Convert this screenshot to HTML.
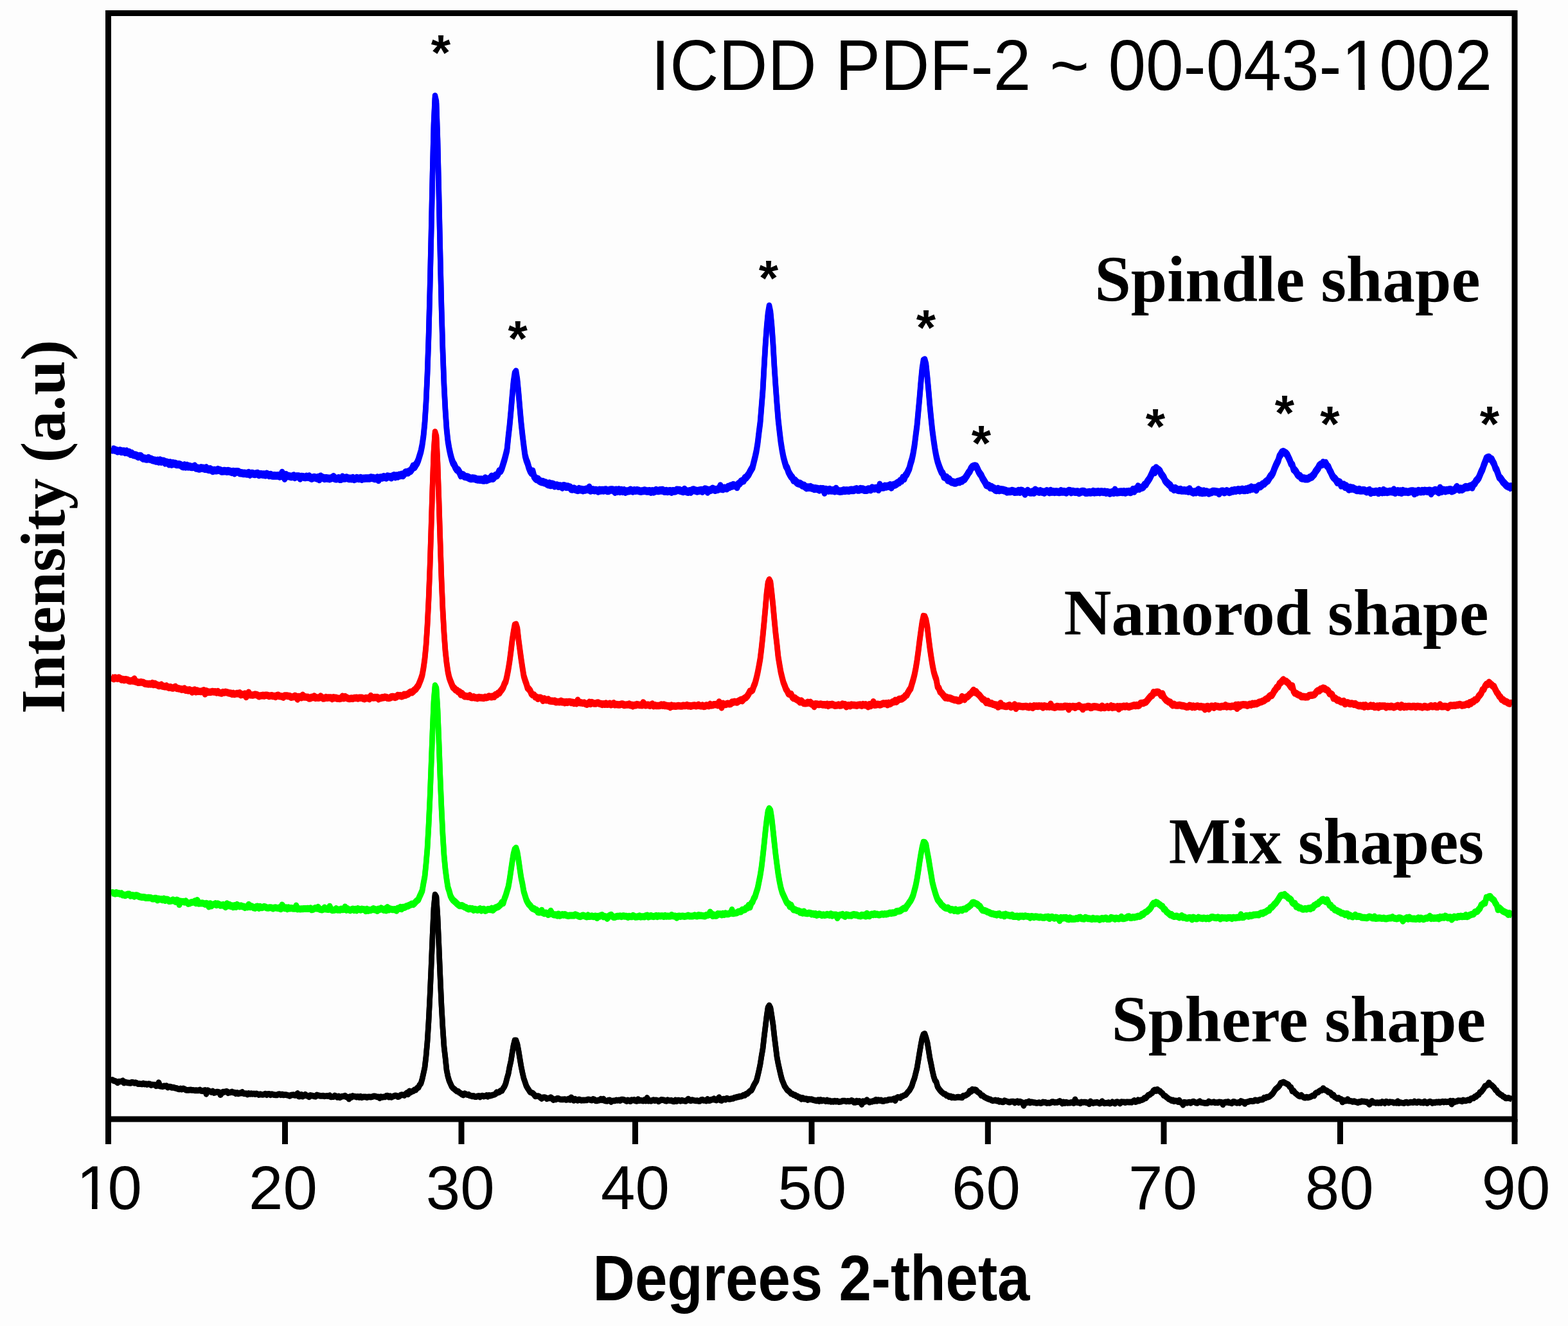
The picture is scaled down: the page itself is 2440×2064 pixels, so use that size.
<!DOCTYPE html>
<html><head><meta charset="utf-8"><title>XRD patterns</title>
<style>
html,body{margin:0;padding:0;background:#fdfdfd;}
body{width:2440px;height:2064px;overflow:hidden;position:relative;}
svg{position:absolute;left:0;top:0;display:block;}
.sans{font-family:"Liberation Sans",Arial,sans-serif;}
.serif{font-family:"Liberation Serif","Times New Roman",serif;font-weight:bold;}
</style></head><body>
<svg width="2440" height="2064" viewBox="0 0 2440 2064">
<rect x="0" y="0" width="2440" height="2064" fill="#fdfdfd"/>
<g fill="none" stroke="#0000ff" stroke-width="8.5" stroke-linejoin="round" stroke-linecap="butt">
<path transform="translate(0,-2.00)" d="M173 699.0 L175 700.3 L177 699.5 L179 700.6 L181 701.1 L183 702.2 L185 701.9 L187 701.5 L189 702.9 L191 702.6 L193 702.5 L195 704.0 L197 702.7 L199 704.4 L201 704.1 L203 706.6 L205 705.9 L207 707.7 L209 708.3 L211 708.4 L213 709.5 L215 710.8 L217 710.1 L219 709.9 L221 712.3 L223 713.6 L225 713.5 L227 714.2 L229 714.4 L231 713.0 L233 714.6 L235 714.8 L237 715.9 L239 716.4 L241 716.7 L243 717.6 L245 716.9 L247 718.4 L249 716.6 L251 718.6 L253 717.8 L255 717.9 L257 720.4 L259 719.5 L261 720.3 L263 722.1 L265 720.4 L267 722.5 L269 721.0 L271 722.0 L273 721.8 L275 723.0 L277 722.9 L279 723.1 L281 723.7 L283 725.3 L285 726.2 L287 724.5 L289 726.3 L291 724.9 L293 726.4 L295 726.0 L297 726.7 L299 726.9 L301 726.8 L303 725.7 L305 728.4 L307 728.5 L309 729.4 L311 729.4 L313 728.3 L315 728.8 L317 729.0 L319 729.9 L321 728.5 L323 730.4 L325 731.0 L327 730.2 L329 731.6 L331 733.0 L333 731.9 L335 732.2 L337 732.2 L339 731.1 L341 731.9 L343 732.4 L345 733.6 L347 733.4 L349 733.0 L351 733.2 L353 733.8 L355 733.0 L357 733.6 L359 734.3 L361 734.9 L363 734.0 L365 736.1 L367 734.3 L369 734.2 L371 734.4 L373 736.2 L375 736.2 L377 736.5 L379 737.1 L381 736.8 L383 737.2 L385 737.5 L387 736.1 L389 738.5 L391 736.9 L393 737.1 L395 737.7 L397 737.9 L399 737.4 L401 736.9 L403 738.9 L405 738.3 L407 738.3 L409 738.7 L411 738.4 L413 739.3 L415 737.8 L417 738.9 L419 740.0 L421 739.0 L423 740.2 L425 740.4 L427 740.3 L429 740.4 L431 740.4 L433 740.3 L435 741.4 L437 740.7 L439 735.9 L441 740.8 L443 744.6 L445 739.2 L447 741.0 L449 741.1 L451 741.4 L453 742.1 L455 741.6 L457 740.6 L459 742.8 L461 741.5 L463 741.5 L465 741.5 L467 744.4 L469 741.9 L471 742.2 L473 742.7 L475 743.0 L477 741.8 L479 742.7 L481 741.6 L483 743.6 L485 744.6 L487 743.6 L489 742.9 L491 743.6 L493 744.4 L495 743.2 L497 746.0 L499 741.7 L501 743.3 L503 743.9 L505 744.9 L507 744.3 L509 744.5 L511 744.7 L513 745.3 L515 744.3 L517 743.9 L519 742.2 L521 744.9 L523 745.3 L525 744.8 L527 744.3 L529 745.8 L531 745.7 L533 742.8 L535 744.6 L537 744.5 L539 743.4 L541 744.2 L543 744.9 L545 744.8 L547 745.2 L549 744.1 L551 745.9 L553 745.3 L555 744.1 L557 744.6 L559 745.0 L561 744.0 L563 745.7 L565 744.7 L567 744.7 L569 744.6 L571 744.5 L573 744.5 L575 744.6 L577 743.5 L579 743.9 L581 744.0 L583 745.1 L585 744.9 L587 743.7 L589 746.9 L591 743.7 L593 743.4 L595 743.5 L597 742.2 L599 743.0 L601 743.5 L603 741.6 L605 742.0 L607 742.2 L609 743.2 L611 741.3 L613 740.4 L615 742.1 L617 740.6 L619 741.4 L621 739.8 L623 740.0 L625 738.9 L627 739.9 L629 737.6 L631 735.5 L633 735.2 L635 735.6 L637 733.6 L639 732.9 L641 730.0 L643 725.7 L645 727.0 L647 723.7 L649 720.7 L651 715.8 L653 709.3 L655 702.6 L657 692.7 L659 678.5 L661 657.8 L663 626.5 L665 582.7 L667 525.0 L669 450.0 L671 364.6 L673 272.7 L675 192.6 L677 150.5 L679 159.2 L681 218.5 L683 304.4 L685 394.9 L687 478.2 L689 546.1 L691 599.7 L693 638.2 L695 667.8 L697 686.5 L699 698.3 L701 707.5 L703 715.2 L705 720.7 L707 723.7 L709 728.2 L711 731.1 L713 732.0 L715 735.2 L717 739.9 L719 739.2 L721 739.7 L723 741.7 L725 742.1 L727 742.4 L729 743.4 L731 744.4 L733 745.1 L735 744.4 L737 744.8 L739 744.9 L741 746.0 L743 746.5 L745 746.4 L747 746.8 L749 746.4 L751 747.2 L753 747.5 L755 744.6 L757 747.2 L759 746.4 L761 745.4 L763 745.0 L765 741.8 L767 744.8 L769 742.6 L771 740.3 L773 740.3 L775 737.5 L777 733.4 L779 733.0 L781 728.9 L783 722.2 L785 715.9 L787 708.2 L789 699.9 L791 680.0 L793 662.5 L795 640.8 L797 617.0 L799 595.2 L801 581.5 L803 578.7 L805 591.3 L807 612.5 L809 636.0 L811 658.7 L813 677.0 L815 693.4 L817 708.6 L819 716.2 L821 721.0 L823 728.0 L825 732.9 L827 736.0 L829 733.7 L831 741.5 L833 744.2 L835 745.9 L837 745.7 L839 748.2 L841 749.3 L843 750.2 L845 750.0 L847 751.3 L849 751.5 L851 752.9 L853 754.2 L855 752.4 L857 755.1 L859 753.5 L861 754.1 L863 756.2 L865 755.4 L867 755.6 L869 756.7 L871 756.4 L873 756.9 L875 758.5 L877 756.2 L879 756.7 L881 757.9 L883 757.4 L885 758.0 L887 758.5 L889 761.3 L891 761.4 L893 760.6 L895 761.6 L897 762.4 L899 762.9 L901 761.2 L903 762.3 L905 762.0 L907 763.2 L909 762.5 L911 762.4 L913 761.5 L915 762.0 L917 758.8 L919 763.5 L921 762.4 L923 762.6 L925 763.2 L927 762.9 L929 763.3 L931 764.5 L933 762.8 L935 763.5 L937 762.9 L939 763.5 L941 762.7 L943 762.6 L945 763.9 L947 764.1 L949 762.7 L951 762.6 L953 762.5 L955 763.1 L957 765.7 L959 762.7 L961 764.6 L963 762.6 L965 764.7 L967 763.1 L969 764.8 L971 763.5 L973 765.6 L975 764.6 L977 764.4 L979 764.1 L981 762.8 L983 763.6 L985 764.5 L987 763.2 L989 763.8 L991 763.2 L993 763.6 L995 764.3 L997 764.7 L999 764.4 L1001 764.1 L1003 763.5 L1005 764.1 L1007 764.6 L1009 764.5 L1011 764.3 L1013 765.6 L1015 764.3 L1017 765.4 L1019 764.4 L1021 763.1 L1023 763.9 L1025 764.0 L1027 763.3 L1029 763.4 L1031 762.9 L1033 764.5 L1035 764.8 L1037 764.1 L1039 765.0 L1041 764.5 L1043 764.2 L1045 765.7 L1047 764.2 L1049 764.5 L1051 764.3 L1053 762.8 L1055 763.0 L1057 763.0 L1059 763.9 L1061 764.3 L1063 765.0 L1065 762.1 L1067 763.6 L1069 765.4 L1071 765.7 L1073 764.3 L1075 765.5 L1077 763.2 L1079 762.4 L1081 763.4 L1083 763.7 L1085 764.4 L1087 763.9 L1089 763.5 L1091 763.1 L1093 764.7 L1095 762.9 L1097 761.6 L1099 762.0 L1101 765.5 L1103 763.1 L1105 762.9 L1107 762.2 L1109 760.8 L1111 761.9 L1113 762.8 L1115 762.1 L1117 761.8 L1119 760.7 L1121 756.6 L1123 760.8 L1125 761.2 L1127 759.7 L1129 759.9 L1131 760.2 L1133 758.1 L1135 758.0 L1137 756.5 L1139 756.4 L1141 755.0 L1143 755.7 L1145 755.9 L1147 758.1 L1149 753.4 L1151 752.5 L1153 749.8 L1155 748.7 L1157 748.2 L1159 744.4 L1161 743.4 L1163 740.9 L1165 738.3 L1167 734.3 L1169 730.9 L1171 727.6 L1173 719.6 L1175 711.5 L1177 702.5 L1179 690.3 L1181 673.3 L1183 657.9 L1185 633.0 L1187 608.1 L1189 572.1 L1191 538.2 L1193 510.5 L1195 489.0 L1197 477.0 L1199 486.5 L1201 507.5 L1203 535.7 L1205 570.9 L1207 600.8 L1209 628.2 L1211 653.3 L1213 671.1 L1215 687.9 L1217 700.5 L1219 711.1 L1221 718.8 L1223 725.4 L1225 728.7 L1227 734.5 L1229 738.2 L1231 741.5 L1233 743.6 L1235 747.6 L1237 747.8 L1239 750.0 L1241 751.8 L1243 752.7 L1245 752.7 L1247 754.3 L1249 755.7 L1251 755.7 L1253 757.6 L1255 759.2 L1257 758.4 L1259 758.9 L1261 758.1 L1263 759.5 L1265 759.7 L1267 761.0 L1269 760.3 L1271 760.8 L1273 761.1 L1275 762.4 L1277 761.1 L1279 761.5 L1281 761.3 L1283 766.5 L1285 761.9 L1287 762.9 L1289 763.6 L1291 762.0 L1293 763.4 L1295 763.5 L1297 763.1 L1299 764.3 L1301 761.0 L1303 763.9 L1305 764.2 L1307 764.8 L1309 764.4 L1311 764.3 L1313 763.2 L1315 763.9 L1317 763.4 L1319 763.6 L1321 763.7 L1323 763.0 L1325 762.7 L1327 763.0 L1329 762.9 L1331 761.8 L1333 761.3 L1335 762.5 L1337 762.4 L1339 761.1 L1341 761.6 L1343 761.6 L1345 762.7 L1347 762.8 L1349 762.8 L1351 761.5 L1353 761.7 L1355 762.2 L1357 759.6 L1359 760.2 L1361 760.6 L1363 759.9 L1365 759.7 L1367 761.8 L1369 754.8 L1371 758.7 L1373 758.1 L1375 758.5 L1377 756.8 L1379 757.4 L1381 756.7 L1383 756.8 L1385 755.3 L1387 758.5 L1389 755.6 L1391 754.9 L1393 754.4 L1395 753.1 L1397 751.5 L1399 751.0 L1401 748.4 L1403 748.2 L1405 743.8 L1407 745.0 L1409 740.2 L1411 737.8 L1413 733.5 L1415 729.2 L1417 721.4 L1419 715.1 L1421 705.8 L1423 693.9 L1425 677.8 L1427 662.4 L1429 640.5 L1431 618.7 L1433 594.7 L1435 573.9 L1437 561.6 L1439 560.4 L1441 567.7 L1443 587.0 L1445 608.3 L1447 632.0 L1449 652.3 L1451 671.4 L1453 686.1 L1455 699.5 L1457 710.4 L1459 718.4 L1461 724.5 L1463 729.9 L1465 734.7 L1467 737.0 L1469 742.1 L1471 743.0 L1473 742.9 L1475 747.4 L1477 746.2 L1479 748.8 L1481 750.2 L1483 750.4 L1485 751.4 L1487 751.6 L1489 750.5 L1491 749.8 L1493 750.0 L1495 748.5 L1497 748.5 L1499 746.4 L1501 745.7 L1503 742.7 L1505 739.7 L1507 736.2 L1509 733.7 L1511 729.3 L1513 726.8 L1515 725.9 L1517 725.5 L1519 725.9 L1521 729.8 L1523 734.2 L1525 737.4 L1527 740.0 L1529 744.6 L1531 747.8 L1533 751.0 L1535 755.0 L1537 755.6 L1539 756.3 L1541 758.8 L1543 758.1 L1545 759.6 L1547 760.5 L1549 762.7 L1551 763.1 L1553 761.1 L1555 763.1 L1557 762.3 L1559 762.6 L1561 762.8 L1563 763.5 L1565 763.9 L1567 765.4 L1569 765.0 L1571 764.9 L1573 764.9 L1575 764.0 L1577 764.6 L1579 765.8 L1581 765.6 L1583 765.5 L1585 764.0 L1587 765.6 L1589 763.7 L1591 764.3 L1593 765.8 L1595 768.5 L1597 766.2 L1599 764.0 L1601 765.8 L1603 766.4 L1605 766.6 L1607 765.4 L1609 766.7 L1611 762.8 L1613 764.5 L1615 764.8 L1617 765.7 L1619 764.4 L1621 765.5 L1623 765.7 L1625 766.6 L1627 765.4 L1629 764.3 L1631 765.2 L1633 766.1 L1635 764.2 L1637 765.7 L1639 765.3 L1641 765.9 L1643 765.5 L1645 765.6 L1647 765.9 L1649 765.9 L1651 764.3 L1653 765.6 L1655 765.2 L1657 765.5 L1659 766.5 L1661 765.3 L1663 764.1 L1665 764.2 L1667 766.1 L1669 764.9 L1671 765.4 L1673 765.7 L1675 765.7 L1677 765.5 L1679 766.9 L1681 766.2 L1683 765.2 L1685 765.0 L1687 765.2 L1689 766.7 L1691 766.7 L1693 766.5 L1695 766.0 L1697 766.6 L1699 766.2 L1701 765.1 L1703 766.4 L1705 765.8 L1707 765.9 L1709 765.3 L1711 766.2 L1713 765.5 L1715 765.5 L1717 766.0 L1719 765.5 L1721 766.8 L1723 766.0 L1725 766.5 L1727 767.6 L1729 766.7 L1731 766.1 L1733 766.8 L1735 762.8 L1737 766.2 L1739 766.4 L1741 766.0 L1743 765.7 L1745 765.6 L1747 766.1 L1749 765.2 L1751 766.6 L1753 765.6 L1755 765.4 L1757 765.1 L1759 766.0 L1761 765.1 L1763 762.3 L1765 764.4 L1767 761.4 L1769 761.2 L1771 757.4 L1773 760.7 L1775 759.2 L1777 758.8 L1779 757.9 L1781 754.6 L1783 754.0 L1785 750.3 L1787 747.5 L1789 744.5 L1791 740.4 L1793 736.2 L1795 731.3 L1797 735.0 L1799 728.6 L1801 730.3 L1803 731.6 L1805 733.6 L1807 737.9 L1809 740.3 L1811 743.2 L1813 747.9 L1815 750.3 L1817 752.1 L1819 754.2 L1821 755.6 L1823 759.4 L1825 759.9 L1827 761.8 L1829 760.2 L1831 761.6 L1833 762.6 L1835 763.1 L1837 762.1 L1839 763.6 L1841 763.6 L1843 763.2 L1845 763.8 L1847 763.5 L1849 764.5 L1851 761.4 L1853 764.6 L1855 765.5 L1857 766.7 L1859 765.5 L1861 766.3 L1863 764.2 L1865 762.5 L1867 766.6 L1869 764.4 L1871 767.1 L1873 764.6 L1875 766.7 L1877 765.4 L1879 766.0 L1881 767.4 L1883 766.7 L1885 766.2 L1887 765.1 L1889 764.9 L1891 765.2 L1893 765.5 L1895 765.7 L1897 768.0 L1899 765.7 L1901 764.7 L1903 764.7 L1905 766.3 L1907 765.4 L1909 764.3 L1911 765.3 L1913 765.9 L1915 765.3 L1917 763.8 L1919 764.2 L1921 763.1 L1923 763.7 L1925 763.0 L1927 762.3 L1929 763.4 L1931 762.7 L1933 761.7 L1935 762.9 L1937 763.1 L1939 761.5 L1941 762.7 L1943 760.6 L1945 761.7 L1947 758.6 L1949 760.6 L1951 759.8 L1953 759.5 L1955 762.2 L1957 758.1 L1959 756.5 L1961 757.3 L1963 755.6 L1965 753.5 L1967 753.0 L1969 750.9 L1971 749.0 L1973 748.0 L1975 744.5 L1977 741.3 L1979 739.2 L1981 735.7 L1983 730.0 L1985 725.1 L1987 720.9 L1989 717.1 L1991 710.3 L1993 707.3 L1995 704.0 L1997 703.3 L1999 704.4 L2001 705.6 L2003 707.8 L2005 712.0 L2007 716.3 L2009 721.5 L2011 723.8 L2013 730.4 L2015 732.1 L2017 734.7 L2019 738.3 L2021 740.5 L2023 740.9 L2025 744.1 L2027 744.5 L2029 744.5 L2031 745.3 L2033 745.3 L2035 745.2 L2037 744.2 L2039 743.0 L2041 742.4 L2043 740.1 L2045 738.2 L2047 734.3 L2049 731.7 L2051 729.0 L2053 725.0 L2055 723.3 L2057 723.1 L2059 720.2 L2061 721.9 L2063 721.0 L2065 725.1 L2067 726.8 L2069 731.7 L2071 735.3 L2073 739.9 L2075 743.0 L2077 744.7 L2079 747.1 L2081 750.7 L2083 750.1 L2085 750.9 L2087 755.5 L2089 755.0 L2091 754.5 L2093 757.9 L2095 756.6 L2097 759.1 L2099 761.6 L2101 758.9 L2103 760.7 L2105 759.7 L2107 761.1 L2109 761.7 L2111 763.0 L2113 763.1 L2115 762.0 L2117 763.5 L2119 763.5 L2121 763.3 L2123 763.3 L2125 764.4 L2127 765.3 L2129 763.9 L2131 763.2 L2133 767.0 L2135 765.3 L2137 765.7 L2139 765.7 L2141 764.9 L2143 765.3 L2145 767.1 L2147 764.2 L2149 765.6 L2151 766.2 L2153 763.3 L2155 765.9 L2157 765.1 L2159 766.0 L2161 765.5 L2163 764.9 L2165 765.0 L2167 765.4 L2169 762.6 L2171 766.8 L2173 765.3 L2175 764.4 L2177 766.0 L2179 764.6 L2181 766.8 L2183 764.1 L2185 765.4 L2187 765.3 L2189 765.5 L2191 766.0 L2193 765.4 L2195 764.7 L2197 764.5 L2199 764.5 L2201 768.1 L2203 765.1 L2205 766.3 L2207 764.0 L2209 764.9 L2211 765.3 L2213 764.1 L2215 765.0 L2217 763.8 L2219 764.2 L2221 764.7 L2223 763.9 L2225 763.7 L2227 768.1 L2229 764.4 L2231 764.3 L2233 762.9 L2235 763.3 L2237 764.6 L2239 766.2 L2241 759.8 L2243 764.9 L2245 762.6 L2247 762.9 L2249 764.3 L2251 763.1 L2253 763.2 L2255 762.5 L2257 762.2 L2259 764.3 L2261 763.5 L2263 762.6 L2265 761.3 L2267 758.1 L2269 760.7 L2271 762.2 L2273 760.6 L2275 761.9 L2277 760.7 L2279 759.1 L2281 757.9 L2283 758.7 L2285 758.3 L2287 757.2 L2289 756.4 L2291 758.4 L2293 753.8 L2295 752.3 L2297 748.5 L2299 746.6 L2301 743.8 L2303 739.1 L2305 734.2 L2307 730.3 L2309 724.1 L2311 719.1 L2313 713.6 L2315 712.3 L2317 711.9 L2319 714.3 L2321 714.8 L2323 718.7 L2325 722.3 L2327 728.4 L2329 731.5 L2331 737.1 L2333 742.8 L2335 744.5 L2337 747.3 L2339 750.4 L2341 752.2 L2343 754.5 L2345 756.3 L2347 757.3 L2349 757.8 L2351 757.3 L2353 762.1"/>
<path transform="translate(0,2.00)" d="M173 699.0 L175 700.3 L177 699.5 L179 700.6 L181 701.1 L183 702.2 L185 701.9 L187 701.5 L189 702.9 L191 702.6 L193 702.5 L195 704.0 L197 702.7 L199 704.4 L201 704.1 L203 706.6 L205 705.9 L207 707.7 L209 708.3 L211 708.4 L213 709.5 L215 710.8 L217 710.1 L219 709.9 L221 712.3 L223 713.6 L225 713.5 L227 714.2 L229 714.4 L231 713.0 L233 714.6 L235 714.8 L237 715.9 L239 716.4 L241 716.7 L243 717.6 L245 716.9 L247 718.4 L249 716.6 L251 718.6 L253 717.8 L255 717.9 L257 720.4 L259 719.5 L261 720.3 L263 722.1 L265 720.4 L267 722.5 L269 721.0 L271 722.0 L273 721.8 L275 723.0 L277 722.9 L279 723.1 L281 723.7 L283 725.3 L285 726.2 L287 724.5 L289 726.3 L291 724.9 L293 726.4 L295 726.0 L297 726.7 L299 726.9 L301 726.8 L303 725.7 L305 728.4 L307 728.5 L309 729.4 L311 729.4 L313 728.3 L315 728.8 L317 729.0 L319 729.9 L321 728.5 L323 730.4 L325 731.0 L327 730.2 L329 731.6 L331 733.0 L333 731.9 L335 732.2 L337 732.2 L339 731.1 L341 731.9 L343 732.4 L345 733.6 L347 733.4 L349 733.0 L351 733.2 L353 733.8 L355 733.0 L357 733.6 L359 734.3 L361 734.9 L363 734.0 L365 736.1 L367 734.3 L369 734.2 L371 734.4 L373 736.2 L375 736.2 L377 736.5 L379 737.1 L381 736.8 L383 737.2 L385 737.5 L387 736.1 L389 738.5 L391 736.9 L393 737.1 L395 737.7 L397 737.9 L399 737.4 L401 736.9 L403 738.9 L405 738.3 L407 738.3 L409 738.7 L411 738.4 L413 739.3 L415 737.8 L417 738.9 L419 740.0 L421 739.0 L423 740.2 L425 740.4 L427 740.3 L429 740.4 L431 740.4 L433 740.3 L435 741.4 L437 740.7 L439 735.9 L441 740.8 L443 744.6 L445 739.2 L447 741.0 L449 741.1 L451 741.4 L453 742.1 L455 741.6 L457 740.6 L459 742.8 L461 741.5 L463 741.5 L465 741.5 L467 744.4 L469 741.9 L471 742.2 L473 742.7 L475 743.0 L477 741.8 L479 742.7 L481 741.6 L483 743.6 L485 744.6 L487 743.6 L489 742.9 L491 743.6 L493 744.4 L495 743.2 L497 746.0 L499 741.7 L501 743.3 L503 743.9 L505 744.9 L507 744.3 L509 744.5 L511 744.7 L513 745.3 L515 744.3 L517 743.9 L519 742.2 L521 744.9 L523 745.3 L525 744.8 L527 744.3 L529 745.8 L531 745.7 L533 742.8 L535 744.6 L537 744.5 L539 743.4 L541 744.2 L543 744.9 L545 744.8 L547 745.2 L549 744.1 L551 745.9 L553 745.3 L555 744.1 L557 744.6 L559 745.0 L561 744.0 L563 745.7 L565 744.7 L567 744.7 L569 744.6 L571 744.5 L573 744.5 L575 744.6 L577 743.5 L579 743.9 L581 744.0 L583 745.1 L585 744.9 L587 743.7 L589 746.9 L591 743.7 L593 743.4 L595 743.5 L597 742.2 L599 743.0 L601 743.5 L603 741.6 L605 742.0 L607 742.2 L609 743.2 L611 741.3 L613 740.4 L615 742.1 L617 740.6 L619 741.4 L621 739.8 L623 740.0 L625 738.9 L627 739.9 L629 737.6 L631 735.5 L633 735.2 L635 735.6 L637 733.6 L639 732.9 L641 730.0 L643 725.7 L645 727.0 L647 723.7 L649 720.7 L651 715.8 L653 709.3 L655 702.6 L657 692.7 L659 678.5 L661 657.8 L663 626.5 L665 582.7 L667 525.0 L669 450.0 L671 364.6 L673 272.7 L675 192.6 L677 150.5 L679 159.2 L681 218.5 L683 304.4 L685 394.9 L687 478.2 L689 546.1 L691 599.7 L693 638.2 L695 667.8 L697 686.5 L699 698.3 L701 707.5 L703 715.2 L705 720.7 L707 723.7 L709 728.2 L711 731.1 L713 732.0 L715 735.2 L717 739.9 L719 739.2 L721 739.7 L723 741.7 L725 742.1 L727 742.4 L729 743.4 L731 744.4 L733 745.1 L735 744.4 L737 744.8 L739 744.9 L741 746.0 L743 746.5 L745 746.4 L747 746.8 L749 746.4 L751 747.2 L753 747.5 L755 744.6 L757 747.2 L759 746.4 L761 745.4 L763 745.0 L765 741.8 L767 744.8 L769 742.6 L771 740.3 L773 740.3 L775 737.5 L777 733.4 L779 733.0 L781 728.9 L783 722.2 L785 715.9 L787 708.2 L789 699.9 L791 680.0 L793 662.5 L795 640.8 L797 617.0 L799 595.2 L801 581.5 L803 578.7 L805 591.3 L807 612.5 L809 636.0 L811 658.7 L813 677.0 L815 693.4 L817 708.6 L819 716.2 L821 721.0 L823 728.0 L825 732.9 L827 736.0 L829 733.7 L831 741.5 L833 744.2 L835 745.9 L837 745.7 L839 748.2 L841 749.3 L843 750.2 L845 750.0 L847 751.3 L849 751.5 L851 752.9 L853 754.2 L855 752.4 L857 755.1 L859 753.5 L861 754.1 L863 756.2 L865 755.4 L867 755.6 L869 756.7 L871 756.4 L873 756.9 L875 758.5 L877 756.2 L879 756.7 L881 757.9 L883 757.4 L885 758.0 L887 758.5 L889 761.3 L891 761.4 L893 760.6 L895 761.6 L897 762.4 L899 762.9 L901 761.2 L903 762.3 L905 762.0 L907 763.2 L909 762.5 L911 762.4 L913 761.5 L915 762.0 L917 758.8 L919 763.5 L921 762.4 L923 762.6 L925 763.2 L927 762.9 L929 763.3 L931 764.5 L933 762.8 L935 763.5 L937 762.9 L939 763.5 L941 762.7 L943 762.6 L945 763.9 L947 764.1 L949 762.7 L951 762.6 L953 762.5 L955 763.1 L957 765.7 L959 762.7 L961 764.6 L963 762.6 L965 764.7 L967 763.1 L969 764.8 L971 763.5 L973 765.6 L975 764.6 L977 764.4 L979 764.1 L981 762.8 L983 763.6 L985 764.5 L987 763.2 L989 763.8 L991 763.2 L993 763.6 L995 764.3 L997 764.7 L999 764.4 L1001 764.1 L1003 763.5 L1005 764.1 L1007 764.6 L1009 764.5 L1011 764.3 L1013 765.6 L1015 764.3 L1017 765.4 L1019 764.4 L1021 763.1 L1023 763.9 L1025 764.0 L1027 763.3 L1029 763.4 L1031 762.9 L1033 764.5 L1035 764.8 L1037 764.1 L1039 765.0 L1041 764.5 L1043 764.2 L1045 765.7 L1047 764.2 L1049 764.5 L1051 764.3 L1053 762.8 L1055 763.0 L1057 763.0 L1059 763.9 L1061 764.3 L1063 765.0 L1065 762.1 L1067 763.6 L1069 765.4 L1071 765.7 L1073 764.3 L1075 765.5 L1077 763.2 L1079 762.4 L1081 763.4 L1083 763.7 L1085 764.4 L1087 763.9 L1089 763.5 L1091 763.1 L1093 764.7 L1095 762.9 L1097 761.6 L1099 762.0 L1101 765.5 L1103 763.1 L1105 762.9 L1107 762.2 L1109 760.8 L1111 761.9 L1113 762.8 L1115 762.1 L1117 761.8 L1119 760.7 L1121 756.6 L1123 760.8 L1125 761.2 L1127 759.7 L1129 759.9 L1131 760.2 L1133 758.1 L1135 758.0 L1137 756.5 L1139 756.4 L1141 755.0 L1143 755.7 L1145 755.9 L1147 758.1 L1149 753.4 L1151 752.5 L1153 749.8 L1155 748.7 L1157 748.2 L1159 744.4 L1161 743.4 L1163 740.9 L1165 738.3 L1167 734.3 L1169 730.9 L1171 727.6 L1173 719.6 L1175 711.5 L1177 702.5 L1179 690.3 L1181 673.3 L1183 657.9 L1185 633.0 L1187 608.1 L1189 572.1 L1191 538.2 L1193 510.5 L1195 489.0 L1197 477.0 L1199 486.5 L1201 507.5 L1203 535.7 L1205 570.9 L1207 600.8 L1209 628.2 L1211 653.3 L1213 671.1 L1215 687.9 L1217 700.5 L1219 711.1 L1221 718.8 L1223 725.4 L1225 728.7 L1227 734.5 L1229 738.2 L1231 741.5 L1233 743.6 L1235 747.6 L1237 747.8 L1239 750.0 L1241 751.8 L1243 752.7 L1245 752.7 L1247 754.3 L1249 755.7 L1251 755.7 L1253 757.6 L1255 759.2 L1257 758.4 L1259 758.9 L1261 758.1 L1263 759.5 L1265 759.7 L1267 761.0 L1269 760.3 L1271 760.8 L1273 761.1 L1275 762.4 L1277 761.1 L1279 761.5 L1281 761.3 L1283 766.5 L1285 761.9 L1287 762.9 L1289 763.6 L1291 762.0 L1293 763.4 L1295 763.5 L1297 763.1 L1299 764.3 L1301 761.0 L1303 763.9 L1305 764.2 L1307 764.8 L1309 764.4 L1311 764.3 L1313 763.2 L1315 763.9 L1317 763.4 L1319 763.6 L1321 763.7 L1323 763.0 L1325 762.7 L1327 763.0 L1329 762.9 L1331 761.8 L1333 761.3 L1335 762.5 L1337 762.4 L1339 761.1 L1341 761.6 L1343 761.6 L1345 762.7 L1347 762.8 L1349 762.8 L1351 761.5 L1353 761.7 L1355 762.2 L1357 759.6 L1359 760.2 L1361 760.6 L1363 759.9 L1365 759.7 L1367 761.8 L1369 754.8 L1371 758.7 L1373 758.1 L1375 758.5 L1377 756.8 L1379 757.4 L1381 756.7 L1383 756.8 L1385 755.3 L1387 758.5 L1389 755.6 L1391 754.9 L1393 754.4 L1395 753.1 L1397 751.5 L1399 751.0 L1401 748.4 L1403 748.2 L1405 743.8 L1407 745.0 L1409 740.2 L1411 737.8 L1413 733.5 L1415 729.2 L1417 721.4 L1419 715.1 L1421 705.8 L1423 693.9 L1425 677.8 L1427 662.4 L1429 640.5 L1431 618.7 L1433 594.7 L1435 573.9 L1437 561.6 L1439 560.4 L1441 567.7 L1443 587.0 L1445 608.3 L1447 632.0 L1449 652.3 L1451 671.4 L1453 686.1 L1455 699.5 L1457 710.4 L1459 718.4 L1461 724.5 L1463 729.9 L1465 734.7 L1467 737.0 L1469 742.1 L1471 743.0 L1473 742.9 L1475 747.4 L1477 746.2 L1479 748.8 L1481 750.2 L1483 750.4 L1485 751.4 L1487 751.6 L1489 750.5 L1491 749.8 L1493 750.0 L1495 748.5 L1497 748.5 L1499 746.4 L1501 745.7 L1503 742.7 L1505 739.7 L1507 736.2 L1509 733.7 L1511 729.3 L1513 726.8 L1515 725.9 L1517 725.5 L1519 725.9 L1521 729.8 L1523 734.2 L1525 737.4 L1527 740.0 L1529 744.6 L1531 747.8 L1533 751.0 L1535 755.0 L1537 755.6 L1539 756.3 L1541 758.8 L1543 758.1 L1545 759.6 L1547 760.5 L1549 762.7 L1551 763.1 L1553 761.1 L1555 763.1 L1557 762.3 L1559 762.6 L1561 762.8 L1563 763.5 L1565 763.9 L1567 765.4 L1569 765.0 L1571 764.9 L1573 764.9 L1575 764.0 L1577 764.6 L1579 765.8 L1581 765.6 L1583 765.5 L1585 764.0 L1587 765.6 L1589 763.7 L1591 764.3 L1593 765.8 L1595 768.5 L1597 766.2 L1599 764.0 L1601 765.8 L1603 766.4 L1605 766.6 L1607 765.4 L1609 766.7 L1611 762.8 L1613 764.5 L1615 764.8 L1617 765.7 L1619 764.4 L1621 765.5 L1623 765.7 L1625 766.6 L1627 765.4 L1629 764.3 L1631 765.2 L1633 766.1 L1635 764.2 L1637 765.7 L1639 765.3 L1641 765.9 L1643 765.5 L1645 765.6 L1647 765.9 L1649 765.9 L1651 764.3 L1653 765.6 L1655 765.2 L1657 765.5 L1659 766.5 L1661 765.3 L1663 764.1 L1665 764.2 L1667 766.1 L1669 764.9 L1671 765.4 L1673 765.7 L1675 765.7 L1677 765.5 L1679 766.9 L1681 766.2 L1683 765.2 L1685 765.0 L1687 765.2 L1689 766.7 L1691 766.7 L1693 766.5 L1695 766.0 L1697 766.6 L1699 766.2 L1701 765.1 L1703 766.4 L1705 765.8 L1707 765.9 L1709 765.3 L1711 766.2 L1713 765.5 L1715 765.5 L1717 766.0 L1719 765.5 L1721 766.8 L1723 766.0 L1725 766.5 L1727 767.6 L1729 766.7 L1731 766.1 L1733 766.8 L1735 762.8 L1737 766.2 L1739 766.4 L1741 766.0 L1743 765.7 L1745 765.6 L1747 766.1 L1749 765.2 L1751 766.6 L1753 765.6 L1755 765.4 L1757 765.1 L1759 766.0 L1761 765.1 L1763 762.3 L1765 764.4 L1767 761.4 L1769 761.2 L1771 757.4 L1773 760.7 L1775 759.2 L1777 758.8 L1779 757.9 L1781 754.6 L1783 754.0 L1785 750.3 L1787 747.5 L1789 744.5 L1791 740.4 L1793 736.2 L1795 731.3 L1797 735.0 L1799 728.6 L1801 730.3 L1803 731.6 L1805 733.6 L1807 737.9 L1809 740.3 L1811 743.2 L1813 747.9 L1815 750.3 L1817 752.1 L1819 754.2 L1821 755.6 L1823 759.4 L1825 759.9 L1827 761.8 L1829 760.2 L1831 761.6 L1833 762.6 L1835 763.1 L1837 762.1 L1839 763.6 L1841 763.6 L1843 763.2 L1845 763.8 L1847 763.5 L1849 764.5 L1851 761.4 L1853 764.6 L1855 765.5 L1857 766.7 L1859 765.5 L1861 766.3 L1863 764.2 L1865 762.5 L1867 766.6 L1869 764.4 L1871 767.1 L1873 764.6 L1875 766.7 L1877 765.4 L1879 766.0 L1881 767.4 L1883 766.7 L1885 766.2 L1887 765.1 L1889 764.9 L1891 765.2 L1893 765.5 L1895 765.7 L1897 768.0 L1899 765.7 L1901 764.7 L1903 764.7 L1905 766.3 L1907 765.4 L1909 764.3 L1911 765.3 L1913 765.9 L1915 765.3 L1917 763.8 L1919 764.2 L1921 763.1 L1923 763.7 L1925 763.0 L1927 762.3 L1929 763.4 L1931 762.7 L1933 761.7 L1935 762.9 L1937 763.1 L1939 761.5 L1941 762.7 L1943 760.6 L1945 761.7 L1947 758.6 L1949 760.6 L1951 759.8 L1953 759.5 L1955 762.2 L1957 758.1 L1959 756.5 L1961 757.3 L1963 755.6 L1965 753.5 L1967 753.0 L1969 750.9 L1971 749.0 L1973 748.0 L1975 744.5 L1977 741.3 L1979 739.2 L1981 735.7 L1983 730.0 L1985 725.1 L1987 720.9 L1989 717.1 L1991 710.3 L1993 707.3 L1995 704.0 L1997 703.3 L1999 704.4 L2001 705.6 L2003 707.8 L2005 712.0 L2007 716.3 L2009 721.5 L2011 723.8 L2013 730.4 L2015 732.1 L2017 734.7 L2019 738.3 L2021 740.5 L2023 740.9 L2025 744.1 L2027 744.5 L2029 744.5 L2031 745.3 L2033 745.3 L2035 745.2 L2037 744.2 L2039 743.0 L2041 742.4 L2043 740.1 L2045 738.2 L2047 734.3 L2049 731.7 L2051 729.0 L2053 725.0 L2055 723.3 L2057 723.1 L2059 720.2 L2061 721.9 L2063 721.0 L2065 725.1 L2067 726.8 L2069 731.7 L2071 735.3 L2073 739.9 L2075 743.0 L2077 744.7 L2079 747.1 L2081 750.7 L2083 750.1 L2085 750.9 L2087 755.5 L2089 755.0 L2091 754.5 L2093 757.9 L2095 756.6 L2097 759.1 L2099 761.6 L2101 758.9 L2103 760.7 L2105 759.7 L2107 761.1 L2109 761.7 L2111 763.0 L2113 763.1 L2115 762.0 L2117 763.5 L2119 763.5 L2121 763.3 L2123 763.3 L2125 764.4 L2127 765.3 L2129 763.9 L2131 763.2 L2133 767.0 L2135 765.3 L2137 765.7 L2139 765.7 L2141 764.9 L2143 765.3 L2145 767.1 L2147 764.2 L2149 765.6 L2151 766.2 L2153 763.3 L2155 765.9 L2157 765.1 L2159 766.0 L2161 765.5 L2163 764.9 L2165 765.0 L2167 765.4 L2169 762.6 L2171 766.8 L2173 765.3 L2175 764.4 L2177 766.0 L2179 764.6 L2181 766.8 L2183 764.1 L2185 765.4 L2187 765.3 L2189 765.5 L2191 766.0 L2193 765.4 L2195 764.7 L2197 764.5 L2199 764.5 L2201 768.1 L2203 765.1 L2205 766.3 L2207 764.0 L2209 764.9 L2211 765.3 L2213 764.1 L2215 765.0 L2217 763.8 L2219 764.2 L2221 764.7 L2223 763.9 L2225 763.7 L2227 768.1 L2229 764.4 L2231 764.3 L2233 762.9 L2235 763.3 L2237 764.6 L2239 766.2 L2241 759.8 L2243 764.9 L2245 762.6 L2247 762.9 L2249 764.3 L2251 763.1 L2253 763.2 L2255 762.5 L2257 762.2 L2259 764.3 L2261 763.5 L2263 762.6 L2265 761.3 L2267 758.1 L2269 760.7 L2271 762.2 L2273 760.6 L2275 761.9 L2277 760.7 L2279 759.1 L2281 757.9 L2283 758.7 L2285 758.3 L2287 757.2 L2289 756.4 L2291 758.4 L2293 753.8 L2295 752.3 L2297 748.5 L2299 746.6 L2301 743.8 L2303 739.1 L2305 734.2 L2307 730.3 L2309 724.1 L2311 719.1 L2313 713.6 L2315 712.3 L2317 711.9 L2319 714.3 L2321 714.8 L2323 718.7 L2325 722.3 L2327 728.4 L2329 731.5 L2331 737.1 L2333 742.8 L2335 744.5 L2337 747.3 L2339 750.4 L2341 752.2 L2343 754.5 L2345 756.3 L2347 757.3 L2349 757.8 L2351 757.3 L2353 762.1"/>
</g>
<g fill="none" stroke="#ff0000" stroke-width="8.5" stroke-linejoin="round" stroke-linecap="butt">
<path transform="translate(0,-1.50)" d="M173 1054.5 L175 1055.4 L177 1056.5 L179 1055.0 L181 1055.8 L183 1056.2 L185 1055.0 L187 1056.1 L189 1057.9 L191 1057.5 L193 1058.4 L195 1057.8 L197 1058.0 L199 1058.6 L201 1059.8 L203 1060.1 L205 1059.4 L207 1060.0 L209 1057.1 L211 1060.9 L213 1061.4 L215 1062.2 L217 1062.2 L219 1061.8 L221 1062.1 L223 1062.4 L225 1063.8 L227 1064.3 L229 1064.5 L231 1064.9 L233 1064.4 L235 1065.1 L237 1063.7 L239 1065.5 L241 1064.3 L243 1065.6 L245 1066.2 L247 1067.5 L249 1067.3 L251 1066.2 L253 1068.0 L255 1068.3 L257 1068.8 L259 1067.9 L261 1069.4 L263 1070.2 L265 1069.4 L267 1070.6 L269 1071.1 L271 1070.1 L273 1069.3 L275 1071.5 L277 1071.5 L279 1072.1 L281 1072.4 L283 1073.2 L285 1072.8 L287 1072.1 L289 1074.2 L291 1073.9 L293 1074.9 L295 1073.8 L297 1075.0 L299 1077.0 L301 1074.7 L303 1074.0 L305 1076.8 L307 1075.1 L309 1076.3 L311 1076.2 L313 1076.4 L315 1075.7 L317 1074.7 L319 1079.8 L321 1075.7 L323 1077.6 L325 1077.1 L327 1077.4 L329 1077.0 L331 1076.4 L333 1077.1 L335 1076.7 L337 1077.9 L339 1076.6 L341 1078.2 L343 1078.6 L345 1079.0 L347 1077.6 L349 1077.9 L351 1077.2 L353 1077.8 L355 1078.4 L357 1079.0 L359 1078.9 L361 1080.3 L363 1079.4 L365 1080.5 L367 1080.0 L369 1079.4 L371 1079.9 L373 1078.9 L375 1081.6 L377 1080.9 L379 1081.1 L381 1080.2 L383 1084.5 L385 1081.1 L387 1078.2 L389 1081.8 L391 1081.8 L393 1082.0 L395 1081.6 L397 1081.1 L399 1081.5 L401 1082.3 L403 1083.7 L405 1082.9 L407 1082.8 L409 1082.3 L411 1083.1 L413 1082.2 L415 1082.2 L417 1082.6 L419 1083.5 L421 1083.0 L423 1082.8 L425 1083.6 L427 1083.4 L429 1084.4 L431 1082.6 L433 1082.3 L435 1083.6 L437 1083.8 L439 1084.2 L441 1085.1 L443 1083.1 L445 1083.1 L447 1083.1 L449 1083.6 L451 1083.8 L453 1085.2 L455 1084.9 L457 1084.5 L459 1083.3 L461 1084.2 L463 1087.9 L465 1084.6 L467 1084.7 L469 1085.6 L471 1082.3 L473 1085.1 L475 1084.7 L477 1085.3 L479 1085.2 L481 1087.0 L483 1086.7 L485 1085.3 L487 1085.7 L489 1083.9 L491 1086.4 L493 1085.9 L495 1086.3 L497 1086.0 L499 1084.1 L501 1085.6 L503 1087.1 L505 1086.8 L507 1085.6 L509 1086.3 L511 1085.9 L513 1086.0 L515 1086.0 L517 1087.5 L519 1085.8 L521 1086.5 L523 1086.2 L525 1087.3 L527 1087.3 L529 1087.5 L531 1087.0 L533 1084.3 L535 1086.8 L537 1084.6 L539 1085.9 L541 1086.9 L543 1087.5 L545 1087.4 L547 1087.0 L549 1087.4 L551 1086.6 L553 1086.5 L555 1086.3 L557 1087.0 L559 1086.3 L561 1086.3 L563 1086.3 L565 1087.1 L567 1087.7 L569 1086.6 L571 1086.7 L573 1086.6 L575 1087.5 L577 1083.6 L579 1085.7 L581 1086.1 L583 1085.5 L585 1085.7 L587 1085.5 L589 1087.8 L591 1086.7 L593 1086.5 L595 1085.7 L597 1085.7 L599 1085.1 L601 1085.4 L603 1086.3 L605 1086.5 L607 1086.1 L609 1084.8 L611 1084.5 L613 1084.7 L615 1085.4 L617 1084.5 L619 1082.5 L621 1083.1 L623 1082.7 L625 1083.8 L627 1083.1 L629 1081.2 L631 1082.0 L633 1080.9 L635 1080.4 L637 1078.6 L639 1077.2 L641 1077.7 L643 1076.0 L645 1073.9 L647 1072.5 L649 1069.6 L651 1067.0 L653 1062.2 L655 1057.1 L657 1050.9 L659 1039.8 L661 1025.3 L663 1004.7 L665 974.1 L667 934.1 L669 883.2 L671 821.2 L673 757.4 L675 703.0 L677 673.0 L679 679.8 L681 721.1 L683 779.6 L685 842.5 L687 901.8 L689 949.4 L691 985.2 L693 1013.3 L695 1031.5 L697 1045.5 L699 1054.6 L701 1060.2 L703 1065.2 L705 1069.8 L707 1071.4 L709 1073.8 L711 1074.5 L713 1076.7 L715 1076.9 L717 1081.0 L719 1079.7 L721 1082.2 L723 1083.8 L725 1083.5 L727 1084.0 L729 1084.3 L731 1082.9 L733 1085.5 L735 1085.7 L737 1084.7 L739 1086.0 L741 1086.1 L743 1086.8 L745 1085.4 L747 1085.9 L749 1086.0 L751 1086.3 L753 1086.4 L755 1085.3 L757 1085.8 L759 1085.2 L761 1084.0 L763 1084.5 L765 1084.8 L767 1084.0 L769 1084.3 L771 1081.4 L773 1081.5 L775 1079.2 L777 1078.7 L779 1075.6 L781 1073.2 L783 1070.0 L785 1064.5 L787 1060.9 L789 1052.2 L791 1041.9 L793 1029.3 L795 1014.1 L797 997.2 L799 984.1 L801 973.2 L803 972.3 L805 978.6 L807 996.2 L809 1011.2 L811 1026.1 L813 1039.3 L815 1051.9 L817 1058.5 L819 1064.1 L821 1070.7 L823 1072.6 L825 1075.1 L827 1079.7 L829 1081.6 L831 1081.9 L833 1084.8 L835 1085.1 L837 1087.2 L839 1086.2 L841 1086.3 L843 1087.4 L845 1090.2 L847 1087.9 L849 1089.5 L851 1089.7 L853 1088.8 L855 1090.8 L857 1091.2 L859 1091.1 L861 1091.5 L863 1091.1 L865 1092.8 L867 1092.6 L869 1092.5 L871 1092.8 L873 1091.4 L875 1092.9 L877 1092.4 L879 1093.8 L881 1092.5 L883 1093.4 L885 1092.5 L887 1092.4 L889 1093.5 L891 1093.2 L893 1094.4 L895 1093.8 L897 1094.7 L899 1090.2 L901 1093.5 L903 1093.7 L905 1094.0 L907 1094.5 L909 1094.0 L911 1095.3 L913 1096.2 L915 1095.4 L917 1093.5 L919 1095.4 L921 1093.6 L923 1094.6 L925 1095.0 L927 1095.1 L929 1094.3 L931 1094.0 L933 1095.3 L935 1095.5 L937 1096.4 L939 1095.7 L941 1096.3 L943 1095.1 L945 1096.2 L947 1096.1 L949 1095.3 L951 1096.8 L953 1096.2 L955 1094.9 L957 1096.8 L959 1096.4 L961 1096.8 L963 1097.0 L965 1096.7 L967 1096.1 L969 1096.1 L971 1097.5 L973 1097.2 L975 1097.1 L977 1097.1 L979 1096.1 L981 1097.8 L983 1097.3 L985 1098.8 L987 1097.5 L989 1097.8 L991 1096.6 L993 1097.0 L995 1097.5 L997 1097.2 L999 1097.7 L1001 1093.9 L1003 1097.4 L1005 1097.8 L1007 1097.2 L1009 1097.3 L1011 1098.3 L1013 1097.4 L1015 1096.2 L1017 1098.7 L1019 1097.7 L1021 1098.6 L1023 1098.5 L1025 1098.6 L1027 1098.3 L1029 1097.0 L1031 1098.2 L1033 1097.0 L1035 1098.5 L1037 1098.2 L1039 1098.9 L1041 1098.8 L1043 1100.5 L1045 1098.2 L1047 1099.2 L1049 1098.8 L1051 1099.3 L1053 1099.0 L1055 1098.5 L1057 1098.7 L1059 1099.1 L1061 1099.0 L1063 1098.2 L1065 1098.4 L1067 1098.4 L1069 1097.6 L1071 1098.7 L1073 1098.5 L1075 1099.2 L1077 1098.6 L1079 1098.2 L1081 1098.1 L1083 1098.7 L1085 1098.4 L1087 1097.4 L1089 1098.6 L1091 1098.9 L1093 1098.1 L1095 1099.4 L1097 1099.3 L1099 1097.9 L1101 1098.3 L1103 1098.7 L1105 1096.5 L1107 1097.9 L1109 1097.6 L1111 1096.7 L1113 1096.8 L1115 1096.5 L1117 1097.7 L1119 1092.9 L1121 1095.9 L1123 1100.9 L1125 1095.3 L1127 1096.6 L1129 1096.5 L1131 1095.7 L1133 1095.2 L1135 1095.8 L1137 1095.6 L1139 1093.1 L1141 1093.2 L1143 1092.3 L1145 1092.7 L1147 1092.9 L1149 1091.5 L1151 1090.5 L1153 1089.4 L1155 1090.6 L1157 1088.1 L1159 1086.7 L1161 1085.5 L1163 1083.2 L1165 1080.0 L1167 1076.1 L1169 1075.6 L1171 1073.9 L1173 1068.2 L1175 1063.3 L1177 1055.9 L1179 1047.3 L1181 1036.8 L1183 1025.4 L1185 1009.0 L1187 990.3 L1189 969.4 L1191 947.3 L1193 923.9 L1195 907.7 L1197 902.8 L1199 906.6 L1201 923.7 L1203 943.0 L1205 965.2 L1207 985.8 L1209 1003.0 L1211 1022.4 L1213 1034.4 L1215 1046.0 L1217 1054.3 L1219 1062.0 L1221 1067.0 L1223 1072.5 L1225 1075.5 L1227 1079.7 L1229 1080.5 L1231 1080.6 L1233 1085.0 L1235 1086.8 L1237 1086.6 L1239 1088.4 L1241 1089.5 L1243 1090.6 L1245 1092.8 L1247 1091.0 L1249 1093.3 L1251 1094.6 L1253 1094.7 L1255 1094.6 L1257 1093.3 L1259 1094.3 L1261 1093.3 L1263 1096.1 L1265 1095.9 L1267 1099.5 L1269 1095.8 L1271 1095.9 L1273 1096.5 L1275 1096.6 L1277 1095.9 L1279 1096.6 L1281 1097.1 L1283 1096.7 L1285 1097.4 L1287 1096.4 L1289 1098.3 L1291 1096.7 L1293 1096.9 L1295 1096.3 L1297 1097.2 L1299 1098.2 L1301 1098.0 L1303 1097.8 L1305 1097.1 L1307 1098.0 L1309 1097.8 L1311 1096.0 L1313 1097.1 L1315 1096.7 L1317 1099.8 L1319 1097.9 L1321 1097.7 L1323 1098.7 L1325 1097.1 L1327 1097.4 L1329 1097.6 L1331 1097.8 L1333 1098.2 L1335 1097.5 L1337 1097.3 L1339 1097.1 L1341 1098.1 L1343 1096.6 L1345 1097.4 L1347 1096.7 L1349 1098.3 L1351 1099.6 L1353 1096.7 L1355 1098.4 L1357 1096.8 L1359 1092.8 L1361 1097.3 L1363 1097.1 L1365 1096.2 L1367 1096.4 L1369 1097.0 L1371 1096.6 L1373 1095.5 L1375 1094.9 L1377 1095.3 L1379 1094.7 L1381 1096.7 L1383 1094.4 L1385 1095.5 L1387 1094.2 L1389 1092.8 L1391 1092.6 L1393 1090.5 L1395 1092.1 L1397 1090.1 L1399 1088.5 L1401 1088.2 L1403 1088.1 L1405 1086.6 L1407 1085.3 L1409 1082.8 L1411 1081.7 L1413 1077.8 L1415 1074.3 L1417 1071.7 L1419 1064.9 L1421 1058.3 L1423 1050.5 L1425 1040.5 L1427 1028.4 L1429 1013.8 L1431 997.4 L1433 982.7 L1435 968.9 L1437 959.6 L1439 959.9 L1441 965.3 L1443 975.8 L1445 993.0 L1447 1008.9 L1449 1022.7 L1451 1035.1 L1453 1045.3 L1455 1052.3 L1457 1057.8 L1459 1068.7 L1461 1071.4 L1463 1076.6 L1465 1078.4 L1467 1080.8 L1469 1083.4 L1471 1085.9 L1473 1085.3 L1475 1086.6 L1477 1086.5 L1479 1086.9 L1481 1087.9 L1483 1088.6 L1485 1089.4 L1487 1089.5 L1489 1089.9 L1491 1090.8 L1493 1090.8 L1495 1089.8 L1497 1084.6 L1499 1087.5 L1501 1088.5 L1503 1085.4 L1505 1084.9 L1507 1083.1 L1509 1080.9 L1511 1079.4 L1513 1077.0 L1515 1074.5 L1517 1077.6 L1519 1076.8 L1521 1079.7 L1523 1081.3 L1525 1083.3 L1527 1085.8 L1529 1088.3 L1531 1089.1 L1533 1090.9 L1535 1093.6 L1537 1091.7 L1539 1094.5 L1541 1095.0 L1543 1094.7 L1545 1096.3 L1547 1096.4 L1549 1097.6 L1551 1097.2 L1553 1100.0 L1555 1099.1 L1557 1094.9 L1559 1098.5 L1561 1098.2 L1563 1099.1 L1565 1099.5 L1567 1099.4 L1569 1098.5 L1571 1097.8 L1573 1100.5 L1575 1099.6 L1577 1098.8 L1579 1097.0 L1581 1102.5 L1583 1099.3 L1585 1099.0 L1587 1099.3 L1589 1099.6 L1591 1099.9 L1593 1099.7 L1595 1099.6 L1597 1099.4 L1599 1100.4 L1601 1100.8 L1603 1099.3 L1605 1100.4 L1607 1101.3 L1609 1098.7 L1611 1099.4 L1613 1098.9 L1615 1099.4 L1617 1098.8 L1619 1099.2 L1621 1099.0 L1623 1101.0 L1625 1098.7 L1627 1099.3 L1629 1100.1 L1631 1099.7 L1633 1100.2 L1635 1096.2 L1637 1100.2 L1639 1100.7 L1641 1101.2 L1643 1100.6 L1645 1099.4 L1647 1100.1 L1649 1100.3 L1651 1100.1 L1653 1100.2 L1655 1100.0 L1657 1099.2 L1659 1099.5 L1661 1099.5 L1663 1103.8 L1665 1099.7 L1667 1100.4 L1669 1099.6 L1671 1099.8 L1673 1101.2 L1675 1099.8 L1677 1099.6 L1679 1098.4 L1681 1100.0 L1683 1100.6 L1685 1103.6 L1687 1100.7 L1689 1100.6 L1691 1100.4 L1693 1099.5 L1695 1099.7 L1697 1101.4 L1699 1101.2 L1701 1099.9 L1703 1099.8 L1705 1100.1 L1707 1100.2 L1709 1100.9 L1711 1101.2 L1713 1101.8 L1715 1099.2 L1717 1101.2 L1719 1101.4 L1721 1100.8 L1723 1099.9 L1725 1101.3 L1727 1100.7 L1729 1099.0 L1731 1101.3 L1733 1099.9 L1735 1100.8 L1737 1100.4 L1739 1099.9 L1741 1103.2 L1743 1099.9 L1745 1100.6 L1747 1099.6 L1749 1099.3 L1751 1100.0 L1753 1099.0 L1755 1099.9 L1757 1100.5 L1759 1099.5 L1761 1099.1 L1763 1098.4 L1765 1097.8 L1767 1098.6 L1769 1097.6 L1771 1098.4 L1773 1097.5 L1775 1094.7 L1777 1094.5 L1779 1094.6 L1781 1093.5 L1783 1092.9 L1785 1090.7 L1787 1088.1 L1789 1085.6 L1791 1083.5 L1793 1082.5 L1795 1078.0 L1797 1078.8 L1799 1077.5 L1801 1077.2 L1803 1077.7 L1805 1079.4 L1807 1082.4 L1809 1080.1 L1811 1085.3 L1813 1087.9 L1815 1090.1 L1817 1091.3 L1819 1092.7 L1821 1093.2 L1823 1095.8 L1825 1097.7 L1827 1096.4 L1829 1097.7 L1831 1097.9 L1833 1098.1 L1835 1097.4 L1837 1097.8 L1839 1098.7 L1841 1098.4 L1843 1099.1 L1845 1099.7 L1847 1100.4 L1849 1100.1 L1851 1098.3 L1853 1098.9 L1855 1100.6 L1857 1099.2 L1859 1100.6 L1861 1099.6 L1863 1098.9 L1865 1099.5 L1867 1100.3 L1869 1099.6 L1871 1100.5 L1873 1100.2 L1875 1103.8 L1877 1100.1 L1879 1099.6 L1881 1103.3 L1883 1100.9 L1885 1099.3 L1887 1099.5 L1889 1101.1 L1891 1098.8 L1893 1099.6 L1895 1099.6 L1897 1100.2 L1899 1100.5 L1901 1099.4 L1903 1099.6 L1905 1099.4 L1907 1097.9 L1909 1100.1 L1911 1099.3 L1913 1099.7 L1915 1100.1 L1917 1099.3 L1919 1099.2 L1921 1099.5 L1923 1097.6 L1925 1102.4 L1927 1097.2 L1929 1099.5 L1931 1097.3 L1933 1097.2 L1935 1096.7 L1937 1097.1 L1939 1097.1 L1941 1098.1 L1943 1097.1 L1945 1096.3 L1947 1097.1 L1949 1095.3 L1951 1096.1 L1953 1095.1 L1955 1095.6 L1957 1094.7 L1959 1093.4 L1961 1092.8 L1963 1092.4 L1965 1091.3 L1967 1090.7 L1969 1088.9 L1971 1087.8 L1973 1087.1 L1975 1084.2 L1977 1082.8 L1979 1082.5 L1981 1079.3 L1983 1075.5 L1985 1073.1 L1987 1069.8 L1989 1068.9 L1991 1064.1 L1993 1062.6 L1995 1060.3 L1997 1058.1 L1999 1059.9 L2001 1060.3 L2003 1062.0 L2005 1063.6 L2007 1066.5 L2009 1069.5 L2011 1067.8 L2013 1075.8 L2015 1078.9 L2017 1079.3 L2019 1080.9 L2021 1081.7 L2023 1082.3 L2025 1084.5 L2027 1084.3 L2029 1084.5 L2031 1084.9 L2033 1084.7 L2035 1084.7 L2037 1082.7 L2039 1082.3 L2041 1082.2 L2043 1082.0 L2045 1081.5 L2047 1079.2 L2049 1076.4 L2051 1075.0 L2053 1075.2 L2055 1072.4 L2057 1072.5 L2059 1071.1 L2061 1071.6 L2063 1073.3 L2065 1074.0 L2067 1075.6 L2069 1079.7 L2071 1080.0 L2073 1081.3 L2075 1086.7 L2077 1086.5 L2079 1088.0 L2081 1090.0 L2083 1089.8 L2085 1091.2 L2087 1092.6 L2089 1092.7 L2091 1091.4 L2093 1095.6 L2095 1094.3 L2097 1093.7 L2099 1094.8 L2101 1095.6 L2103 1095.0 L2105 1095.4 L2107 1096.4 L2109 1095.5 L2111 1097.2 L2113 1098.1 L2115 1098.7 L2117 1098.2 L2119 1098.9 L2121 1098.1 L2123 1100.2 L2125 1098.0 L2127 1099.4 L2129 1099.7 L2131 1099.3 L2133 1098.1 L2135 1099.2 L2137 1098.3 L2139 1100.6 L2141 1100.3 L2143 1099.0 L2145 1100.8 L2147 1098.7 L2149 1099.4 L2151 1099.0 L2153 1099.0 L2155 1099.0 L2157 1100.8 L2159 1099.6 L2161 1099.7 L2163 1100.1 L2165 1099.2 L2167 1100.0 L2169 1100.9 L2171 1100.0 L2173 1099.3 L2175 1098.3 L2177 1099.6 L2179 1100.7 L2181 1098.0 L2183 1099.2 L2185 1100.6 L2187 1099.4 L2189 1100.2 L2191 1099.5 L2193 1099.4 L2195 1100.0 L2197 1100.0 L2199 1099.4 L2201 1099.6 L2203 1100.6 L2205 1099.5 L2207 1099.5 L2209 1100.0 L2211 1100.1 L2213 1100.9 L2215 1100.3 L2217 1099.4 L2219 1100.1 L2221 1100.7 L2223 1100.4 L2225 1099.6 L2227 1098.7 L2229 1099.8 L2231 1099.6 L2233 1098.6 L2235 1100.3 L2237 1100.3 L2239 1098.8 L2241 1097.0 L2243 1099.7 L2245 1099.8 L2247 1099.6 L2249 1099.4 L2251 1099.8 L2253 1101.1 L2255 1099.3 L2257 1098.1 L2259 1098.3 L2261 1098.2 L2263 1097.8 L2265 1098.3 L2267 1097.3 L2269 1097.5 L2271 1096.5 L2273 1096.9 L2275 1098.0 L2277 1097.6 L2279 1097.4 L2281 1096.6 L2283 1095.8 L2285 1096.6 L2287 1093.9 L2289 1094.9 L2291 1092.1 L2293 1092.2 L2295 1089.5 L2297 1089.2 L2299 1087.5 L2301 1083.8 L2303 1081.7 L2305 1079.0 L2307 1073.9 L2309 1072.9 L2311 1068.2 L2313 1065.3 L2315 1065.4 L2317 1062.3 L2319 1064.2 L2321 1065.8 L2323 1067.9 L2325 1068.9 L2327 1073.4 L2329 1077.3 L2331 1079.8 L2333 1083.6 L2335 1085.3 L2337 1088.8 L2339 1089.2 L2341 1091.3 L2343 1092.1 L2345 1092.8 L2347 1094.3 L2349 1095.1 L2351 1094.5 L2353 1095.7"/>
<path transform="translate(0,1.50)" d="M173 1054.5 L175 1055.4 L177 1056.5 L179 1055.0 L181 1055.8 L183 1056.2 L185 1055.0 L187 1056.1 L189 1057.9 L191 1057.5 L193 1058.4 L195 1057.8 L197 1058.0 L199 1058.6 L201 1059.8 L203 1060.1 L205 1059.4 L207 1060.0 L209 1057.1 L211 1060.9 L213 1061.4 L215 1062.2 L217 1062.2 L219 1061.8 L221 1062.1 L223 1062.4 L225 1063.8 L227 1064.3 L229 1064.5 L231 1064.9 L233 1064.4 L235 1065.1 L237 1063.7 L239 1065.5 L241 1064.3 L243 1065.6 L245 1066.2 L247 1067.5 L249 1067.3 L251 1066.2 L253 1068.0 L255 1068.3 L257 1068.8 L259 1067.9 L261 1069.4 L263 1070.2 L265 1069.4 L267 1070.6 L269 1071.1 L271 1070.1 L273 1069.3 L275 1071.5 L277 1071.5 L279 1072.1 L281 1072.4 L283 1073.2 L285 1072.8 L287 1072.1 L289 1074.2 L291 1073.9 L293 1074.9 L295 1073.8 L297 1075.0 L299 1077.0 L301 1074.7 L303 1074.0 L305 1076.8 L307 1075.1 L309 1076.3 L311 1076.2 L313 1076.4 L315 1075.7 L317 1074.7 L319 1079.8 L321 1075.7 L323 1077.6 L325 1077.1 L327 1077.4 L329 1077.0 L331 1076.4 L333 1077.1 L335 1076.7 L337 1077.9 L339 1076.6 L341 1078.2 L343 1078.6 L345 1079.0 L347 1077.6 L349 1077.9 L351 1077.2 L353 1077.8 L355 1078.4 L357 1079.0 L359 1078.9 L361 1080.3 L363 1079.4 L365 1080.5 L367 1080.0 L369 1079.4 L371 1079.9 L373 1078.9 L375 1081.6 L377 1080.9 L379 1081.1 L381 1080.2 L383 1084.5 L385 1081.1 L387 1078.2 L389 1081.8 L391 1081.8 L393 1082.0 L395 1081.6 L397 1081.1 L399 1081.5 L401 1082.3 L403 1083.7 L405 1082.9 L407 1082.8 L409 1082.3 L411 1083.1 L413 1082.2 L415 1082.2 L417 1082.6 L419 1083.5 L421 1083.0 L423 1082.8 L425 1083.6 L427 1083.4 L429 1084.4 L431 1082.6 L433 1082.3 L435 1083.6 L437 1083.8 L439 1084.2 L441 1085.1 L443 1083.1 L445 1083.1 L447 1083.1 L449 1083.6 L451 1083.8 L453 1085.2 L455 1084.9 L457 1084.5 L459 1083.3 L461 1084.2 L463 1087.9 L465 1084.6 L467 1084.7 L469 1085.6 L471 1082.3 L473 1085.1 L475 1084.7 L477 1085.3 L479 1085.2 L481 1087.0 L483 1086.7 L485 1085.3 L487 1085.7 L489 1083.9 L491 1086.4 L493 1085.9 L495 1086.3 L497 1086.0 L499 1084.1 L501 1085.6 L503 1087.1 L505 1086.8 L507 1085.6 L509 1086.3 L511 1085.9 L513 1086.0 L515 1086.0 L517 1087.5 L519 1085.8 L521 1086.5 L523 1086.2 L525 1087.3 L527 1087.3 L529 1087.5 L531 1087.0 L533 1084.3 L535 1086.8 L537 1084.6 L539 1085.9 L541 1086.9 L543 1087.5 L545 1087.4 L547 1087.0 L549 1087.4 L551 1086.6 L553 1086.5 L555 1086.3 L557 1087.0 L559 1086.3 L561 1086.3 L563 1086.3 L565 1087.1 L567 1087.7 L569 1086.6 L571 1086.7 L573 1086.6 L575 1087.5 L577 1083.6 L579 1085.7 L581 1086.1 L583 1085.5 L585 1085.7 L587 1085.5 L589 1087.8 L591 1086.7 L593 1086.5 L595 1085.7 L597 1085.7 L599 1085.1 L601 1085.4 L603 1086.3 L605 1086.5 L607 1086.1 L609 1084.8 L611 1084.5 L613 1084.7 L615 1085.4 L617 1084.5 L619 1082.5 L621 1083.1 L623 1082.7 L625 1083.8 L627 1083.1 L629 1081.2 L631 1082.0 L633 1080.9 L635 1080.4 L637 1078.6 L639 1077.2 L641 1077.7 L643 1076.0 L645 1073.9 L647 1072.5 L649 1069.6 L651 1067.0 L653 1062.2 L655 1057.1 L657 1050.9 L659 1039.8 L661 1025.3 L663 1004.7 L665 974.1 L667 934.1 L669 883.2 L671 821.2 L673 757.4 L675 703.0 L677 673.0 L679 679.8 L681 721.1 L683 779.6 L685 842.5 L687 901.8 L689 949.4 L691 985.2 L693 1013.3 L695 1031.5 L697 1045.5 L699 1054.6 L701 1060.2 L703 1065.2 L705 1069.8 L707 1071.4 L709 1073.8 L711 1074.5 L713 1076.7 L715 1076.9 L717 1081.0 L719 1079.7 L721 1082.2 L723 1083.8 L725 1083.5 L727 1084.0 L729 1084.3 L731 1082.9 L733 1085.5 L735 1085.7 L737 1084.7 L739 1086.0 L741 1086.1 L743 1086.8 L745 1085.4 L747 1085.9 L749 1086.0 L751 1086.3 L753 1086.4 L755 1085.3 L757 1085.8 L759 1085.2 L761 1084.0 L763 1084.5 L765 1084.8 L767 1084.0 L769 1084.3 L771 1081.4 L773 1081.5 L775 1079.2 L777 1078.7 L779 1075.6 L781 1073.2 L783 1070.0 L785 1064.5 L787 1060.9 L789 1052.2 L791 1041.9 L793 1029.3 L795 1014.1 L797 997.2 L799 984.1 L801 973.2 L803 972.3 L805 978.6 L807 996.2 L809 1011.2 L811 1026.1 L813 1039.3 L815 1051.9 L817 1058.5 L819 1064.1 L821 1070.7 L823 1072.6 L825 1075.1 L827 1079.7 L829 1081.6 L831 1081.9 L833 1084.8 L835 1085.1 L837 1087.2 L839 1086.2 L841 1086.3 L843 1087.4 L845 1090.2 L847 1087.9 L849 1089.5 L851 1089.7 L853 1088.8 L855 1090.8 L857 1091.2 L859 1091.1 L861 1091.5 L863 1091.1 L865 1092.8 L867 1092.6 L869 1092.5 L871 1092.8 L873 1091.4 L875 1092.9 L877 1092.4 L879 1093.8 L881 1092.5 L883 1093.4 L885 1092.5 L887 1092.4 L889 1093.5 L891 1093.2 L893 1094.4 L895 1093.8 L897 1094.7 L899 1090.2 L901 1093.5 L903 1093.7 L905 1094.0 L907 1094.5 L909 1094.0 L911 1095.3 L913 1096.2 L915 1095.4 L917 1093.5 L919 1095.4 L921 1093.6 L923 1094.6 L925 1095.0 L927 1095.1 L929 1094.3 L931 1094.0 L933 1095.3 L935 1095.5 L937 1096.4 L939 1095.7 L941 1096.3 L943 1095.1 L945 1096.2 L947 1096.1 L949 1095.3 L951 1096.8 L953 1096.2 L955 1094.9 L957 1096.8 L959 1096.4 L961 1096.8 L963 1097.0 L965 1096.7 L967 1096.1 L969 1096.1 L971 1097.5 L973 1097.2 L975 1097.1 L977 1097.1 L979 1096.1 L981 1097.8 L983 1097.3 L985 1098.8 L987 1097.5 L989 1097.8 L991 1096.6 L993 1097.0 L995 1097.5 L997 1097.2 L999 1097.7 L1001 1093.9 L1003 1097.4 L1005 1097.8 L1007 1097.2 L1009 1097.3 L1011 1098.3 L1013 1097.4 L1015 1096.2 L1017 1098.7 L1019 1097.7 L1021 1098.6 L1023 1098.5 L1025 1098.6 L1027 1098.3 L1029 1097.0 L1031 1098.2 L1033 1097.0 L1035 1098.5 L1037 1098.2 L1039 1098.9 L1041 1098.8 L1043 1100.5 L1045 1098.2 L1047 1099.2 L1049 1098.8 L1051 1099.3 L1053 1099.0 L1055 1098.5 L1057 1098.7 L1059 1099.1 L1061 1099.0 L1063 1098.2 L1065 1098.4 L1067 1098.4 L1069 1097.6 L1071 1098.7 L1073 1098.5 L1075 1099.2 L1077 1098.6 L1079 1098.2 L1081 1098.1 L1083 1098.7 L1085 1098.4 L1087 1097.4 L1089 1098.6 L1091 1098.9 L1093 1098.1 L1095 1099.4 L1097 1099.3 L1099 1097.9 L1101 1098.3 L1103 1098.7 L1105 1096.5 L1107 1097.9 L1109 1097.6 L1111 1096.7 L1113 1096.8 L1115 1096.5 L1117 1097.7 L1119 1092.9 L1121 1095.9 L1123 1100.9 L1125 1095.3 L1127 1096.6 L1129 1096.5 L1131 1095.7 L1133 1095.2 L1135 1095.8 L1137 1095.6 L1139 1093.1 L1141 1093.2 L1143 1092.3 L1145 1092.7 L1147 1092.9 L1149 1091.5 L1151 1090.5 L1153 1089.4 L1155 1090.6 L1157 1088.1 L1159 1086.7 L1161 1085.5 L1163 1083.2 L1165 1080.0 L1167 1076.1 L1169 1075.6 L1171 1073.9 L1173 1068.2 L1175 1063.3 L1177 1055.9 L1179 1047.3 L1181 1036.8 L1183 1025.4 L1185 1009.0 L1187 990.3 L1189 969.4 L1191 947.3 L1193 923.9 L1195 907.7 L1197 902.8 L1199 906.6 L1201 923.7 L1203 943.0 L1205 965.2 L1207 985.8 L1209 1003.0 L1211 1022.4 L1213 1034.4 L1215 1046.0 L1217 1054.3 L1219 1062.0 L1221 1067.0 L1223 1072.5 L1225 1075.5 L1227 1079.7 L1229 1080.5 L1231 1080.6 L1233 1085.0 L1235 1086.8 L1237 1086.6 L1239 1088.4 L1241 1089.5 L1243 1090.6 L1245 1092.8 L1247 1091.0 L1249 1093.3 L1251 1094.6 L1253 1094.7 L1255 1094.6 L1257 1093.3 L1259 1094.3 L1261 1093.3 L1263 1096.1 L1265 1095.9 L1267 1099.5 L1269 1095.8 L1271 1095.9 L1273 1096.5 L1275 1096.6 L1277 1095.9 L1279 1096.6 L1281 1097.1 L1283 1096.7 L1285 1097.4 L1287 1096.4 L1289 1098.3 L1291 1096.7 L1293 1096.9 L1295 1096.3 L1297 1097.2 L1299 1098.2 L1301 1098.0 L1303 1097.8 L1305 1097.1 L1307 1098.0 L1309 1097.8 L1311 1096.0 L1313 1097.1 L1315 1096.7 L1317 1099.8 L1319 1097.9 L1321 1097.7 L1323 1098.7 L1325 1097.1 L1327 1097.4 L1329 1097.6 L1331 1097.8 L1333 1098.2 L1335 1097.5 L1337 1097.3 L1339 1097.1 L1341 1098.1 L1343 1096.6 L1345 1097.4 L1347 1096.7 L1349 1098.3 L1351 1099.6 L1353 1096.7 L1355 1098.4 L1357 1096.8 L1359 1092.8 L1361 1097.3 L1363 1097.1 L1365 1096.2 L1367 1096.4 L1369 1097.0 L1371 1096.6 L1373 1095.5 L1375 1094.9 L1377 1095.3 L1379 1094.7 L1381 1096.7 L1383 1094.4 L1385 1095.5 L1387 1094.2 L1389 1092.8 L1391 1092.6 L1393 1090.5 L1395 1092.1 L1397 1090.1 L1399 1088.5 L1401 1088.2 L1403 1088.1 L1405 1086.6 L1407 1085.3 L1409 1082.8 L1411 1081.7 L1413 1077.8 L1415 1074.3 L1417 1071.7 L1419 1064.9 L1421 1058.3 L1423 1050.5 L1425 1040.5 L1427 1028.4 L1429 1013.8 L1431 997.4 L1433 982.7 L1435 968.9 L1437 959.6 L1439 959.9 L1441 965.3 L1443 975.8 L1445 993.0 L1447 1008.9 L1449 1022.7 L1451 1035.1 L1453 1045.3 L1455 1052.3 L1457 1057.8 L1459 1068.7 L1461 1071.4 L1463 1076.6 L1465 1078.4 L1467 1080.8 L1469 1083.4 L1471 1085.9 L1473 1085.3 L1475 1086.6 L1477 1086.5 L1479 1086.9 L1481 1087.9 L1483 1088.6 L1485 1089.4 L1487 1089.5 L1489 1089.9 L1491 1090.8 L1493 1090.8 L1495 1089.8 L1497 1084.6 L1499 1087.5 L1501 1088.5 L1503 1085.4 L1505 1084.9 L1507 1083.1 L1509 1080.9 L1511 1079.4 L1513 1077.0 L1515 1074.5 L1517 1077.6 L1519 1076.8 L1521 1079.7 L1523 1081.3 L1525 1083.3 L1527 1085.8 L1529 1088.3 L1531 1089.1 L1533 1090.9 L1535 1093.6 L1537 1091.7 L1539 1094.5 L1541 1095.0 L1543 1094.7 L1545 1096.3 L1547 1096.4 L1549 1097.6 L1551 1097.2 L1553 1100.0 L1555 1099.1 L1557 1094.9 L1559 1098.5 L1561 1098.2 L1563 1099.1 L1565 1099.5 L1567 1099.4 L1569 1098.5 L1571 1097.8 L1573 1100.5 L1575 1099.6 L1577 1098.8 L1579 1097.0 L1581 1102.5 L1583 1099.3 L1585 1099.0 L1587 1099.3 L1589 1099.6 L1591 1099.9 L1593 1099.7 L1595 1099.6 L1597 1099.4 L1599 1100.4 L1601 1100.8 L1603 1099.3 L1605 1100.4 L1607 1101.3 L1609 1098.7 L1611 1099.4 L1613 1098.9 L1615 1099.4 L1617 1098.8 L1619 1099.2 L1621 1099.0 L1623 1101.0 L1625 1098.7 L1627 1099.3 L1629 1100.1 L1631 1099.7 L1633 1100.2 L1635 1096.2 L1637 1100.2 L1639 1100.7 L1641 1101.2 L1643 1100.6 L1645 1099.4 L1647 1100.1 L1649 1100.3 L1651 1100.1 L1653 1100.2 L1655 1100.0 L1657 1099.2 L1659 1099.5 L1661 1099.5 L1663 1103.8 L1665 1099.7 L1667 1100.4 L1669 1099.6 L1671 1099.8 L1673 1101.2 L1675 1099.8 L1677 1099.6 L1679 1098.4 L1681 1100.0 L1683 1100.6 L1685 1103.6 L1687 1100.7 L1689 1100.6 L1691 1100.4 L1693 1099.5 L1695 1099.7 L1697 1101.4 L1699 1101.2 L1701 1099.9 L1703 1099.8 L1705 1100.1 L1707 1100.2 L1709 1100.9 L1711 1101.2 L1713 1101.8 L1715 1099.2 L1717 1101.2 L1719 1101.4 L1721 1100.8 L1723 1099.9 L1725 1101.3 L1727 1100.7 L1729 1099.0 L1731 1101.3 L1733 1099.9 L1735 1100.8 L1737 1100.4 L1739 1099.9 L1741 1103.2 L1743 1099.9 L1745 1100.6 L1747 1099.6 L1749 1099.3 L1751 1100.0 L1753 1099.0 L1755 1099.9 L1757 1100.5 L1759 1099.5 L1761 1099.1 L1763 1098.4 L1765 1097.8 L1767 1098.6 L1769 1097.6 L1771 1098.4 L1773 1097.5 L1775 1094.7 L1777 1094.5 L1779 1094.6 L1781 1093.5 L1783 1092.9 L1785 1090.7 L1787 1088.1 L1789 1085.6 L1791 1083.5 L1793 1082.5 L1795 1078.0 L1797 1078.8 L1799 1077.5 L1801 1077.2 L1803 1077.7 L1805 1079.4 L1807 1082.4 L1809 1080.1 L1811 1085.3 L1813 1087.9 L1815 1090.1 L1817 1091.3 L1819 1092.7 L1821 1093.2 L1823 1095.8 L1825 1097.7 L1827 1096.4 L1829 1097.7 L1831 1097.9 L1833 1098.1 L1835 1097.4 L1837 1097.8 L1839 1098.7 L1841 1098.4 L1843 1099.1 L1845 1099.7 L1847 1100.4 L1849 1100.1 L1851 1098.3 L1853 1098.9 L1855 1100.6 L1857 1099.2 L1859 1100.6 L1861 1099.6 L1863 1098.9 L1865 1099.5 L1867 1100.3 L1869 1099.6 L1871 1100.5 L1873 1100.2 L1875 1103.8 L1877 1100.1 L1879 1099.6 L1881 1103.3 L1883 1100.9 L1885 1099.3 L1887 1099.5 L1889 1101.1 L1891 1098.8 L1893 1099.6 L1895 1099.6 L1897 1100.2 L1899 1100.5 L1901 1099.4 L1903 1099.6 L1905 1099.4 L1907 1097.9 L1909 1100.1 L1911 1099.3 L1913 1099.7 L1915 1100.1 L1917 1099.3 L1919 1099.2 L1921 1099.5 L1923 1097.6 L1925 1102.4 L1927 1097.2 L1929 1099.5 L1931 1097.3 L1933 1097.2 L1935 1096.7 L1937 1097.1 L1939 1097.1 L1941 1098.1 L1943 1097.1 L1945 1096.3 L1947 1097.1 L1949 1095.3 L1951 1096.1 L1953 1095.1 L1955 1095.6 L1957 1094.7 L1959 1093.4 L1961 1092.8 L1963 1092.4 L1965 1091.3 L1967 1090.7 L1969 1088.9 L1971 1087.8 L1973 1087.1 L1975 1084.2 L1977 1082.8 L1979 1082.5 L1981 1079.3 L1983 1075.5 L1985 1073.1 L1987 1069.8 L1989 1068.9 L1991 1064.1 L1993 1062.6 L1995 1060.3 L1997 1058.1 L1999 1059.9 L2001 1060.3 L2003 1062.0 L2005 1063.6 L2007 1066.5 L2009 1069.5 L2011 1067.8 L2013 1075.8 L2015 1078.9 L2017 1079.3 L2019 1080.9 L2021 1081.7 L2023 1082.3 L2025 1084.5 L2027 1084.3 L2029 1084.5 L2031 1084.9 L2033 1084.7 L2035 1084.7 L2037 1082.7 L2039 1082.3 L2041 1082.2 L2043 1082.0 L2045 1081.5 L2047 1079.2 L2049 1076.4 L2051 1075.0 L2053 1075.2 L2055 1072.4 L2057 1072.5 L2059 1071.1 L2061 1071.6 L2063 1073.3 L2065 1074.0 L2067 1075.6 L2069 1079.7 L2071 1080.0 L2073 1081.3 L2075 1086.7 L2077 1086.5 L2079 1088.0 L2081 1090.0 L2083 1089.8 L2085 1091.2 L2087 1092.6 L2089 1092.7 L2091 1091.4 L2093 1095.6 L2095 1094.3 L2097 1093.7 L2099 1094.8 L2101 1095.6 L2103 1095.0 L2105 1095.4 L2107 1096.4 L2109 1095.5 L2111 1097.2 L2113 1098.1 L2115 1098.7 L2117 1098.2 L2119 1098.9 L2121 1098.1 L2123 1100.2 L2125 1098.0 L2127 1099.4 L2129 1099.7 L2131 1099.3 L2133 1098.1 L2135 1099.2 L2137 1098.3 L2139 1100.6 L2141 1100.3 L2143 1099.0 L2145 1100.8 L2147 1098.7 L2149 1099.4 L2151 1099.0 L2153 1099.0 L2155 1099.0 L2157 1100.8 L2159 1099.6 L2161 1099.7 L2163 1100.1 L2165 1099.2 L2167 1100.0 L2169 1100.9 L2171 1100.0 L2173 1099.3 L2175 1098.3 L2177 1099.6 L2179 1100.7 L2181 1098.0 L2183 1099.2 L2185 1100.6 L2187 1099.4 L2189 1100.2 L2191 1099.5 L2193 1099.4 L2195 1100.0 L2197 1100.0 L2199 1099.4 L2201 1099.6 L2203 1100.6 L2205 1099.5 L2207 1099.5 L2209 1100.0 L2211 1100.1 L2213 1100.9 L2215 1100.3 L2217 1099.4 L2219 1100.1 L2221 1100.7 L2223 1100.4 L2225 1099.6 L2227 1098.7 L2229 1099.8 L2231 1099.6 L2233 1098.6 L2235 1100.3 L2237 1100.3 L2239 1098.8 L2241 1097.0 L2243 1099.7 L2245 1099.8 L2247 1099.6 L2249 1099.4 L2251 1099.8 L2253 1101.1 L2255 1099.3 L2257 1098.1 L2259 1098.3 L2261 1098.2 L2263 1097.8 L2265 1098.3 L2267 1097.3 L2269 1097.5 L2271 1096.5 L2273 1096.9 L2275 1098.0 L2277 1097.6 L2279 1097.4 L2281 1096.6 L2283 1095.8 L2285 1096.6 L2287 1093.9 L2289 1094.9 L2291 1092.1 L2293 1092.2 L2295 1089.5 L2297 1089.2 L2299 1087.5 L2301 1083.8 L2303 1081.7 L2305 1079.0 L2307 1073.9 L2309 1072.9 L2311 1068.2 L2313 1065.3 L2315 1065.4 L2317 1062.3 L2319 1064.2 L2321 1065.8 L2323 1067.9 L2325 1068.9 L2327 1073.4 L2329 1077.3 L2331 1079.8 L2333 1083.6 L2335 1085.3 L2337 1088.8 L2339 1089.2 L2341 1091.3 L2343 1092.1 L2345 1092.8 L2347 1094.3 L2349 1095.1 L2351 1094.5 L2353 1095.7"/>
</g>
<g fill="none" stroke="#00ff00" stroke-width="8.5" stroke-linejoin="round" stroke-linecap="butt">
<path transform="translate(0,-1.25)" d="M173 1390.0 L175 1389.6 L177 1390.3 L179 1391.0 L181 1389.5 L183 1390.6 L185 1390.4 L187 1391.5 L189 1390.9 L191 1392.9 L193 1393.0 L195 1393.8 L197 1392.8 L199 1392.1 L201 1392.0 L203 1394.3 L205 1393.5 L207 1393.8 L209 1395.1 L211 1393.7 L213 1393.8 L215 1394.7 L217 1395.8 L219 1396.1 L221 1396.6 L223 1396.5 L225 1396.7 L227 1397.6 L229 1397.6 L231 1397.3 L233 1397.4 L235 1397.7 L237 1399.0 L239 1399.1 L241 1398.2 L243 1398.2 L245 1400.9 L247 1399.1 L249 1399.9 L251 1399.6 L253 1400.7 L255 1399.2 L257 1401.4 L259 1400.1 L261 1400.2 L263 1402.6 L265 1402.4 L267 1402.0 L269 1400.8 L271 1401.9 L273 1403.4 L275 1401.1 L277 1401.8 L279 1407.8 L281 1403.0 L283 1403.7 L285 1403.3 L287 1404.3 L289 1402.9 L291 1404.8 L293 1406.5 L295 1406.0 L297 1404.9 L299 1404.4 L301 1404.3 L303 1403.0 L305 1405.7 L307 1401.5 L309 1406.2 L311 1406.0 L313 1406.1 L315 1405.8 L317 1406.3 L319 1407.4 L321 1406.3 L323 1407.0 L325 1411.0 L327 1406.7 L329 1409.9 L331 1407.9 L333 1407.7 L335 1406.7 L337 1408.6 L339 1406.9 L341 1407.8 L343 1409.3 L345 1409.1 L347 1408.4 L349 1410.2 L351 1411.7 L353 1406.8 L355 1410.0 L357 1408.2 L359 1410.5 L361 1409.9 L363 1411.8 L365 1409.5 L367 1411.6 L369 1408.5 L371 1409.6 L373 1410.9 L375 1409.9 L377 1410.9 L379 1410.9 L381 1412.6 L383 1411.4 L385 1411.9 L387 1408.2 L389 1411.7 L391 1410.5 L393 1411.5 L395 1413.0 L397 1413.5 L399 1411.2 L401 1411.1 L403 1413.5 L405 1411.5 L407 1412.8 L409 1412.3 L411 1411.3 L413 1411.8 L415 1413.0 L417 1413.3 L419 1412.8 L421 1412.7 L423 1413.1 L425 1414.0 L427 1412.9 L429 1412.8 L431 1413.3 L433 1413.7 L435 1412.6 L437 1414.8 L439 1408.9 L441 1412.0 L443 1413.7 L445 1412.9 L447 1414.7 L449 1412.8 L451 1414.0 L453 1413.4 L455 1414.0 L457 1414.3 L459 1414.3 L461 1410.1 L463 1415.0 L465 1414.4 L467 1415.1 L469 1414.8 L471 1414.8 L473 1414.5 L475 1414.5 L477 1414.6 L479 1414.3 L481 1414.6 L483 1413.9 L485 1415.8 L487 1415.3 L489 1414.4 L491 1413.4 L493 1414.1 L495 1412.3 L497 1415.0 L499 1415.7 L501 1416.1 L503 1415.3 L505 1413.0 L507 1415.1 L509 1415.3 L511 1415.6 L513 1411.2 L515 1415.4 L517 1416.8 L519 1416.6 L521 1416.3 L523 1414.7 L525 1416.2 L527 1416.1 L529 1416.4 L531 1415.1 L533 1415.7 L535 1415.5 L537 1411.9 L539 1416.4 L541 1414.7 L543 1416.0 L545 1417.0 L547 1415.7 L549 1415.1 L551 1416.6 L553 1415.3 L555 1416.9 L557 1414.7 L559 1415.6 L561 1416.3 L563 1415.1 L565 1415.6 L567 1415.8 L569 1417.7 L571 1415.2 L573 1417.4 L575 1416.5 L577 1416.8 L579 1415.8 L581 1414.5 L583 1416.0 L585 1415.8 L587 1417.6 L589 1415.0 L591 1415.6 L593 1413.8 L595 1415.2 L597 1416.4 L599 1415.0 L601 1417.0 L603 1412.6 L605 1416.0 L607 1414.7 L609 1415.4 L611 1415.8 L613 1415.8 L615 1415.5 L617 1417.3 L619 1414.0 L621 1414.5 L623 1412.3 L625 1414.7 L627 1412.2 L629 1412.6 L631 1411.6 L633 1410.4 L635 1410.2 L637 1408.9 L639 1408.2 L641 1407.0 L643 1407.7 L645 1406.0 L647 1403.7 L649 1401.9 L651 1400.2 L653 1395.3 L655 1391.1 L657 1386.6 L659 1374.7 L661 1364.4 L663 1344.6 L665 1320.8 L667 1285.4 L669 1243.1 L671 1191.3 L673 1139.2 L675 1091.4 L677 1067.5 L679 1071.7 L681 1104.3 L683 1155.2 L685 1210.2 L687 1258.0 L689 1299.3 L691 1331.3 L693 1352.9 L695 1368.3 L697 1381.2 L699 1387.1 L701 1394.3 L703 1398.3 L705 1401.1 L707 1402.8 L709 1404.5 L711 1406.5 L713 1408.2 L715 1409.8 L717 1409.7 L719 1409.4 L721 1410.8 L723 1411.9 L725 1412.6 L727 1414.0 L729 1415.0 L731 1414.1 L733 1414.7 L735 1414.5 L737 1416.5 L739 1415.2 L741 1415.8 L743 1416.5 L745 1415.8 L747 1414.6 L749 1417.0 L751 1415.5 L753 1415.3 L755 1417.5 L757 1416.8 L759 1415.5 L761 1415.4 L763 1415.8 L765 1414.3 L767 1416.6 L769 1414.6 L771 1412.9 L773 1412.2 L775 1411.7 L777 1409.9 L779 1408.1 L781 1404.8 L783 1405.7 L785 1398.9 L787 1393.8 L789 1387.0 L791 1380.6 L793 1369.1 L795 1355.4 L797 1341.9 L799 1329.4 L801 1322.2 L803 1320.2 L805 1326.8 L807 1339.0 L809 1353.4 L811 1366.6 L813 1375.9 L815 1387.5 L817 1393.9 L819 1400.5 L821 1404.5 L823 1407.6 L825 1409.5 L827 1412.2 L829 1414.2 L831 1414.5 L833 1415.9 L835 1416.6 L837 1419.6 L839 1420.0 L841 1419.8 L843 1417.2 L845 1420.9 L847 1421.7 L849 1421.0 L851 1421.4 L853 1423.5 L855 1422.8 L857 1418.2 L859 1421.8 L861 1423.6 L863 1424.1 L865 1423.7 L867 1425.0 L869 1422.9 L871 1425.2 L873 1424.5 L875 1423.4 L877 1424.2 L879 1423.4 L881 1424.6 L883 1425.2 L885 1425.4 L887 1424.9 L889 1424.9 L891 1425.0 L893 1425.0 L895 1423.8 L897 1424.6 L899 1425.3 L901 1426.3 L903 1426.7 L905 1425.7 L907 1424.9 L909 1425.5 L911 1426.2 L913 1426.9 L915 1425.0 L917 1426.6 L919 1426.3 L921 1425.8 L923 1426.8 L925 1426.3 L927 1426.1 L929 1428.6 L931 1426.3 L933 1426.3 L935 1425.1 L937 1424.5 L939 1426.9 L941 1426.4 L943 1427.1 L945 1429.4 L947 1426.5 L949 1425.1 L951 1424.3 L953 1426.4 L955 1427.6 L957 1427.4 L959 1426.6 L961 1426.2 L963 1426.2 L965 1425.8 L967 1426.7 L969 1425.8 L971 1425.8 L973 1426.3 L975 1426.2 L977 1427.5 L979 1426.3 L981 1426.7 L983 1426.8 L985 1425.3 L987 1426.4 L989 1427.3 L991 1427.0 L993 1426.7 L995 1425.8 L997 1427.2 L999 1426.8 L1001 1426.8 L1003 1426.9 L1005 1425.5 L1007 1425.0 L1009 1427.1 L1011 1426.4 L1013 1425.4 L1015 1426.3 L1017 1426.7 L1019 1426.2 L1021 1425.4 L1023 1426.7 L1025 1425.5 L1027 1426.0 L1029 1425.8 L1031 1425.7 L1033 1426.5 L1035 1425.4 L1037 1426.3 L1039 1425.9 L1041 1426.2 L1043 1426.1 L1045 1424.5 L1047 1425.7 L1049 1425.9 L1051 1426.0 L1053 1428.3 L1055 1426.2 L1057 1425.9 L1059 1426.5 L1061 1426.0 L1063 1425.9 L1065 1426.6 L1067 1426.2 L1069 1425.8 L1071 1425.1 L1073 1426.0 L1075 1425.9 L1077 1425.9 L1079 1425.7 L1081 1424.8 L1083 1425.7 L1085 1425.9 L1087 1424.5 L1089 1425.4 L1091 1425.0 L1093 1425.6 L1095 1425.8 L1097 1426.1 L1099 1424.4 L1101 1424.6 L1103 1423.9 L1105 1420.1 L1107 1422.2 L1109 1425.5 L1111 1424.1 L1113 1425.3 L1115 1425.3 L1117 1422.6 L1119 1423.2 L1121 1422.7 L1123 1423.9 L1125 1422.3 L1127 1423.5 L1129 1421.9 L1131 1422.8 L1133 1422.8 L1135 1422.0 L1137 1421.4 L1139 1416.5 L1141 1421.7 L1143 1421.4 L1145 1421.1 L1147 1420.6 L1149 1419.2 L1151 1418.8 L1153 1419.1 L1155 1416.3 L1157 1416.5 L1159 1416.0 L1161 1413.2 L1163 1413.4 L1165 1409.4 L1167 1412.0 L1169 1406.3 L1171 1403.9 L1173 1398.8 L1175 1395.5 L1177 1388.7 L1179 1382.6 L1181 1372.6 L1183 1362.6 L1185 1349.9 L1187 1333.0 L1189 1314.6 L1191 1294.7 L1193 1277.4 L1195 1263.3 L1197 1258.8 L1199 1261.9 L1201 1274.6 L1203 1292.7 L1205 1311.7 L1207 1329.9 L1209 1345.5 L1211 1360.4 L1213 1372.0 L1215 1381.7 L1217 1388.7 L1219 1393.2 L1221 1397.5 L1223 1402.1 L1225 1405.7 L1227 1406.6 L1229 1411.1 L1231 1409.1 L1233 1413.3 L1235 1416.1 L1237 1415.7 L1239 1417.0 L1241 1417.6 L1243 1417.9 L1245 1420.1 L1247 1419.6 L1249 1421.3 L1251 1418.9 L1253 1421.3 L1255 1421.7 L1257 1421.7 L1259 1421.1 L1261 1421.4 L1263 1423.0 L1265 1422.3 L1267 1423.4 L1269 1422.5 L1271 1424.4 L1273 1423.5 L1275 1422.8 L1277 1423.7 L1279 1424.7 L1281 1423.8 L1283 1424.4 L1285 1424.3 L1287 1423.3 L1289 1423.8 L1291 1424.5 L1293 1422.7 L1295 1425.1 L1297 1423.9 L1299 1424.2 L1301 1423.9 L1303 1428.5 L1305 1425.2 L1307 1424.2 L1309 1424.1 L1311 1423.4 L1313 1425.2 L1315 1426.3 L1317 1423.8 L1319 1424.2 L1321 1425.1 L1323 1424.9 L1325 1425.2 L1327 1423.9 L1329 1423.4 L1331 1424.2 L1333 1424.0 L1335 1425.1 L1337 1425.6 L1339 1425.9 L1341 1424.2 L1343 1425.0 L1345 1424.3 L1347 1426.1 L1349 1422.2 L1351 1425.1 L1353 1425.7 L1355 1423.8 L1357 1423.0 L1359 1423.7 L1361 1422.3 L1363 1423.5 L1365 1423.0 L1367 1424.0 L1369 1423.9 L1371 1423.1 L1373 1422.8 L1375 1423.3 L1377 1422.6 L1379 1423.0 L1381 1422.4 L1383 1421.7 L1385 1421.0 L1387 1421.6 L1389 1420.7 L1391 1421.0 L1393 1420.5 L1395 1418.7 L1397 1418.3 L1399 1418.2 L1401 1417.8 L1403 1416.1 L1405 1414.8 L1407 1413.4 L1409 1414.0 L1411 1410.4 L1413 1407.8 L1415 1404.7 L1417 1402.0 L1419 1398.1 L1421 1393.3 L1423 1385.9 L1425 1378.3 L1427 1368.0 L1429 1355.7 L1431 1342.0 L1433 1329.8 L1435 1318.9 L1437 1311.2 L1439 1311.5 L1441 1314.7 L1443 1326.6 L1445 1337.0 L1447 1349.6 L1449 1361.4 L1451 1373.7 L1453 1381.6 L1455 1388.7 L1457 1395.0 L1459 1400.1 L1461 1402.8 L1463 1405.1 L1465 1408.2 L1467 1409.8 L1469 1411.8 L1471 1413.1 L1473 1413.7 L1475 1413.0 L1477 1414.7 L1479 1416.4 L1481 1415.4 L1483 1416.1 L1485 1417.5 L1487 1415.9 L1489 1417.7 L1491 1418.0 L1493 1416.4 L1495 1416.1 L1497 1416.9 L1499 1415.3 L1501 1414.8 L1503 1415.1 L1505 1412.7 L1507 1411.8 L1509 1410.0 L1511 1408.6 L1513 1405.4 L1515 1404.9 L1517 1405.9 L1519 1406.7 L1521 1407.6 L1523 1409.8 L1525 1410.8 L1527 1414.3 L1529 1416.8 L1531 1417.1 L1533 1417.6 L1535 1418.4 L1537 1419.7 L1539 1420.1 L1541 1421.3 L1543 1422.2 L1545 1422.3 L1547 1423.2 L1549 1423.2 L1551 1424.1 L1553 1423.0 L1555 1422.6 L1557 1424.4 L1559 1424.6 L1561 1423.9 L1563 1425.8 L1565 1423.2 L1567 1424.2 L1569 1424.7 L1571 1425.2 L1573 1425.4 L1575 1424.3 L1577 1426.6 L1579 1426.2 L1581 1426.4 L1583 1425.9 L1585 1427.5 L1587 1426.1 L1589 1426.3 L1591 1426.0 L1593 1426.7 L1595 1425.7 L1597 1426.1 L1599 1426.4 L1601 1426.7 L1603 1428.3 L1605 1426.6 L1607 1426.7 L1609 1427.7 L1611 1426.7 L1613 1426.9 L1615 1427.4 L1617 1427.9 L1619 1427.3 L1621 1427.9 L1623 1428.3 L1625 1428.2 L1627 1427.4 L1629 1427.4 L1631 1427.1 L1633 1429.6 L1635 1427.8 L1637 1427.2 L1639 1428.4 L1641 1429.3 L1643 1428.0 L1645 1428.5 L1647 1429.9 L1649 1432.7 L1651 1428.5 L1653 1429.4 L1655 1428.5 L1657 1428.9 L1659 1428.2 L1661 1430.6 L1663 1430.9 L1665 1428.9 L1667 1430.4 L1669 1430.3 L1671 1430.5 L1673 1430.3 L1675 1429.4 L1677 1429.9 L1679 1428.5 L1681 1428.1 L1683 1429.8 L1685 1429.9 L1687 1430.3 L1689 1428.3 L1691 1429.0 L1693 1429.7 L1695 1429.8 L1697 1430.2 L1699 1430.7 L1701 1429.4 L1703 1430.2 L1705 1430.3 L1707 1429.9 L1709 1430.2 L1711 1431.4 L1713 1430.4 L1715 1429.4 L1717 1430.2 L1719 1429.4 L1721 1429.0 L1723 1430.5 L1725 1430.4 L1727 1430.5 L1729 1428.3 L1731 1429.0 L1733 1429.2 L1735 1430.4 L1737 1429.1 L1739 1429.6 L1741 1430.1 L1743 1429.2 L1745 1427.2 L1747 1429.8 L1749 1429.7 L1751 1429.1 L1753 1428.5 L1755 1427.0 L1757 1426.8 L1759 1428.4 L1761 1428.5 L1763 1427.5 L1765 1428.0 L1767 1427.4 L1769 1427.0 L1771 1426.1 L1773 1426.4 L1775 1425.8 L1777 1423.1 L1779 1423.5 L1781 1420.9 L1783 1419.8 L1785 1418.8 L1787 1416.8 L1789 1415.1 L1791 1412.5 L1793 1408.6 L1795 1406.0 L1797 1406.6 L1799 1404.6 L1801 1405.4 L1803 1407.2 L1805 1408.4 L1807 1410.2 L1809 1411.0 L1811 1415.1 L1813 1415.6 L1815 1418.9 L1817 1420.5 L1819 1422.1 L1821 1424.1 L1823 1423.5 L1825 1425.7 L1827 1426.4 L1829 1426.2 L1831 1425.9 L1833 1426.8 L1835 1427.9 L1837 1427.3 L1839 1425.5 L1841 1428.1 L1843 1427.5 L1845 1428.8 L1847 1429.3 L1849 1428.8 L1851 1428.4 L1853 1428.7 L1855 1431.1 L1857 1428.1 L1859 1429.0 L1861 1430.0 L1863 1429.9 L1865 1428.1 L1867 1428.9 L1869 1429.2 L1871 1429.7 L1873 1428.9 L1875 1429.3 L1877 1429.9 L1879 1429.1 L1881 1429.9 L1883 1429.2 L1885 1427.7 L1887 1427.4 L1889 1428.1 L1891 1428.6 L1893 1428.7 L1895 1427.8 L1897 1428.5 L1899 1429.9 L1901 1428.5 L1903 1428.8 L1905 1428.8 L1907 1428.7 L1909 1429.4 L1911 1428.5 L1913 1428.6 L1915 1428.5 L1917 1429.7 L1919 1428.2 L1921 1428.5 L1923 1428.7 L1925 1428.2 L1927 1427.9 L1929 1428.0 L1931 1423.8 L1933 1427.8 L1935 1427.6 L1937 1426.3 L1939 1425.4 L1941 1425.4 L1943 1426.2 L1945 1424.8 L1947 1425.5 L1949 1424.9 L1951 1424.0 L1953 1423.9 L1955 1423.8 L1957 1423.7 L1959 1423.9 L1961 1422.0 L1963 1421.3 L1965 1422.0 L1967 1420.3 L1969 1420.0 L1971 1418.4 L1973 1417.0 L1975 1416.7 L1977 1412.9 L1979 1412.2 L1981 1410.1 L1983 1407.6 L1985 1405.9 L1987 1403.2 L1989 1400.3 L1991 1397.0 L1993 1393.8 L1995 1393.4 L1997 1393.3 L1999 1392.4 L2001 1394.4 L2003 1395.8 L2005 1398.1 L2007 1398.9 L2009 1400.7 L2011 1404.9 L2013 1406.7 L2015 1406.2 L2017 1411.1 L2019 1410.7 L2021 1413.2 L2023 1413.0 L2025 1413.9 L2027 1415.3 L2029 1415.3 L2031 1414.3 L2033 1415.2 L2035 1414.2 L2037 1413.7 L2039 1414.6 L2041 1412.7 L2043 1413.0 L2045 1409.4 L2047 1408.7 L2049 1407.2 L2051 1406.8 L2053 1404.0 L2055 1403.0 L2057 1400.8 L2059 1400.0 L2061 1401.9 L2063 1403.6 L2065 1400.7 L2067 1405.0 L2069 1409.1 L2071 1409.2 L2073 1412.9 L2075 1413.2 L2077 1416.1 L2079 1416.7 L2081 1417.6 L2083 1418.9 L2085 1419.6 L2087 1421.3 L2089 1421.4 L2091 1422.2 L2093 1423.7 L2095 1422.5 L2097 1422.7 L2099 1425.9 L2101 1424.8 L2103 1426.3 L2105 1427.0 L2107 1425.9 L2109 1424.2 L2111 1426.7 L2113 1426.2 L2115 1426.4 L2117 1426.8 L2119 1428.0 L2121 1428.2 L2123 1428.3 L2125 1428.5 L2127 1428.8 L2129 1427.9 L2131 1427.0 L2133 1427.5 L2135 1428.8 L2137 1429.1 L2139 1427.0 L2141 1429.6 L2143 1429.2 L2145 1429.0 L2147 1428.8 L2149 1429.2 L2151 1429.5 L2153 1429.0 L2155 1429.8 L2157 1430.0 L2159 1429.6 L2161 1429.2 L2163 1428.8 L2165 1429.1 L2167 1427.7 L2169 1429.3 L2171 1429.5 L2173 1430.0 L2175 1429.6 L2177 1428.7 L2179 1429.0 L2181 1429.7 L2183 1433.3 L2185 1430.9 L2187 1429.8 L2189 1428.6 L2191 1430.2 L2193 1427.9 L2195 1429.8 L2197 1430.0 L2199 1430.2 L2201 1430.0 L2203 1430.6 L2205 1430.1 L2207 1428.9 L2209 1430.7 L2211 1429.1 L2213 1429.7 L2215 1430.8 L2217 1430.0 L2219 1429.0 L2221 1429.2 L2223 1428.1 L2225 1426.3 L2227 1429.7 L2229 1428.5 L2231 1429.5 L2233 1428.8 L2235 1429.3 L2237 1428.4 L2239 1430.0 L2241 1427.4 L2243 1428.5 L2245 1427.2 L2247 1428.2 L2249 1426.1 L2251 1427.1 L2253 1428.8 L2255 1428.0 L2257 1427.7 L2259 1431.1 L2261 1429.1 L2263 1427.0 L2265 1427.6 L2267 1427.9 L2269 1426.4 L2271 1426.9 L2273 1426.1 L2275 1426.8 L2277 1426.6 L2279 1426.6 L2281 1424.7 L2283 1426.6 L2285 1426.0 L2287 1424.4 L2289 1423.7 L2291 1423.2 L2293 1422.8 L2295 1420.0 L2297 1419.1 L2299 1418.6 L2301 1415.8 L2303 1413.7 L2305 1408.9 L2307 1407.7 L2309 1405.7 L2311 1405.5 L2313 1397.2 L2315 1397.2 L2317 1395.8 L2319 1395.6 L2321 1398.3 L2323 1399.8 L2325 1401.7 L2327 1405.9 L2329 1408.5 L2331 1415.8 L2333 1412.9 L2335 1414.9 L2337 1416.8 L2339 1418.4 L2341 1419.3 L2343 1420.3 L2345 1421.2 L2347 1423.5 L2349 1421.7 L2351 1423.1 L2353 1424.1"/>
<path transform="translate(0,1.25)" d="M173 1390.0 L175 1389.6 L177 1390.3 L179 1391.0 L181 1389.5 L183 1390.6 L185 1390.4 L187 1391.5 L189 1390.9 L191 1392.9 L193 1393.0 L195 1393.8 L197 1392.8 L199 1392.1 L201 1392.0 L203 1394.3 L205 1393.5 L207 1393.8 L209 1395.1 L211 1393.7 L213 1393.8 L215 1394.7 L217 1395.8 L219 1396.1 L221 1396.6 L223 1396.5 L225 1396.7 L227 1397.6 L229 1397.6 L231 1397.3 L233 1397.4 L235 1397.7 L237 1399.0 L239 1399.1 L241 1398.2 L243 1398.2 L245 1400.9 L247 1399.1 L249 1399.9 L251 1399.6 L253 1400.7 L255 1399.2 L257 1401.4 L259 1400.1 L261 1400.2 L263 1402.6 L265 1402.4 L267 1402.0 L269 1400.8 L271 1401.9 L273 1403.4 L275 1401.1 L277 1401.8 L279 1407.8 L281 1403.0 L283 1403.7 L285 1403.3 L287 1404.3 L289 1402.9 L291 1404.8 L293 1406.5 L295 1406.0 L297 1404.9 L299 1404.4 L301 1404.3 L303 1403.0 L305 1405.7 L307 1401.5 L309 1406.2 L311 1406.0 L313 1406.1 L315 1405.8 L317 1406.3 L319 1407.4 L321 1406.3 L323 1407.0 L325 1411.0 L327 1406.7 L329 1409.9 L331 1407.9 L333 1407.7 L335 1406.7 L337 1408.6 L339 1406.9 L341 1407.8 L343 1409.3 L345 1409.1 L347 1408.4 L349 1410.2 L351 1411.7 L353 1406.8 L355 1410.0 L357 1408.2 L359 1410.5 L361 1409.9 L363 1411.8 L365 1409.5 L367 1411.6 L369 1408.5 L371 1409.6 L373 1410.9 L375 1409.9 L377 1410.9 L379 1410.9 L381 1412.6 L383 1411.4 L385 1411.9 L387 1408.2 L389 1411.7 L391 1410.5 L393 1411.5 L395 1413.0 L397 1413.5 L399 1411.2 L401 1411.1 L403 1413.5 L405 1411.5 L407 1412.8 L409 1412.3 L411 1411.3 L413 1411.8 L415 1413.0 L417 1413.3 L419 1412.8 L421 1412.7 L423 1413.1 L425 1414.0 L427 1412.9 L429 1412.8 L431 1413.3 L433 1413.7 L435 1412.6 L437 1414.8 L439 1408.9 L441 1412.0 L443 1413.7 L445 1412.9 L447 1414.7 L449 1412.8 L451 1414.0 L453 1413.4 L455 1414.0 L457 1414.3 L459 1414.3 L461 1410.1 L463 1415.0 L465 1414.4 L467 1415.1 L469 1414.8 L471 1414.8 L473 1414.5 L475 1414.5 L477 1414.6 L479 1414.3 L481 1414.6 L483 1413.9 L485 1415.8 L487 1415.3 L489 1414.4 L491 1413.4 L493 1414.1 L495 1412.3 L497 1415.0 L499 1415.7 L501 1416.1 L503 1415.3 L505 1413.0 L507 1415.1 L509 1415.3 L511 1415.6 L513 1411.2 L515 1415.4 L517 1416.8 L519 1416.6 L521 1416.3 L523 1414.7 L525 1416.2 L527 1416.1 L529 1416.4 L531 1415.1 L533 1415.7 L535 1415.5 L537 1411.9 L539 1416.4 L541 1414.7 L543 1416.0 L545 1417.0 L547 1415.7 L549 1415.1 L551 1416.6 L553 1415.3 L555 1416.9 L557 1414.7 L559 1415.6 L561 1416.3 L563 1415.1 L565 1415.6 L567 1415.8 L569 1417.7 L571 1415.2 L573 1417.4 L575 1416.5 L577 1416.8 L579 1415.8 L581 1414.5 L583 1416.0 L585 1415.8 L587 1417.6 L589 1415.0 L591 1415.6 L593 1413.8 L595 1415.2 L597 1416.4 L599 1415.0 L601 1417.0 L603 1412.6 L605 1416.0 L607 1414.7 L609 1415.4 L611 1415.8 L613 1415.8 L615 1415.5 L617 1417.3 L619 1414.0 L621 1414.5 L623 1412.3 L625 1414.7 L627 1412.2 L629 1412.6 L631 1411.6 L633 1410.4 L635 1410.2 L637 1408.9 L639 1408.2 L641 1407.0 L643 1407.7 L645 1406.0 L647 1403.7 L649 1401.9 L651 1400.2 L653 1395.3 L655 1391.1 L657 1386.6 L659 1374.7 L661 1364.4 L663 1344.6 L665 1320.8 L667 1285.4 L669 1243.1 L671 1191.3 L673 1139.2 L675 1091.4 L677 1067.5 L679 1071.7 L681 1104.3 L683 1155.2 L685 1210.2 L687 1258.0 L689 1299.3 L691 1331.3 L693 1352.9 L695 1368.3 L697 1381.2 L699 1387.1 L701 1394.3 L703 1398.3 L705 1401.1 L707 1402.8 L709 1404.5 L711 1406.5 L713 1408.2 L715 1409.8 L717 1409.7 L719 1409.4 L721 1410.8 L723 1411.9 L725 1412.6 L727 1414.0 L729 1415.0 L731 1414.1 L733 1414.7 L735 1414.5 L737 1416.5 L739 1415.2 L741 1415.8 L743 1416.5 L745 1415.8 L747 1414.6 L749 1417.0 L751 1415.5 L753 1415.3 L755 1417.5 L757 1416.8 L759 1415.5 L761 1415.4 L763 1415.8 L765 1414.3 L767 1416.6 L769 1414.6 L771 1412.9 L773 1412.2 L775 1411.7 L777 1409.9 L779 1408.1 L781 1404.8 L783 1405.7 L785 1398.9 L787 1393.8 L789 1387.0 L791 1380.6 L793 1369.1 L795 1355.4 L797 1341.9 L799 1329.4 L801 1322.2 L803 1320.2 L805 1326.8 L807 1339.0 L809 1353.4 L811 1366.6 L813 1375.9 L815 1387.5 L817 1393.9 L819 1400.5 L821 1404.5 L823 1407.6 L825 1409.5 L827 1412.2 L829 1414.2 L831 1414.5 L833 1415.9 L835 1416.6 L837 1419.6 L839 1420.0 L841 1419.8 L843 1417.2 L845 1420.9 L847 1421.7 L849 1421.0 L851 1421.4 L853 1423.5 L855 1422.8 L857 1418.2 L859 1421.8 L861 1423.6 L863 1424.1 L865 1423.7 L867 1425.0 L869 1422.9 L871 1425.2 L873 1424.5 L875 1423.4 L877 1424.2 L879 1423.4 L881 1424.6 L883 1425.2 L885 1425.4 L887 1424.9 L889 1424.9 L891 1425.0 L893 1425.0 L895 1423.8 L897 1424.6 L899 1425.3 L901 1426.3 L903 1426.7 L905 1425.7 L907 1424.9 L909 1425.5 L911 1426.2 L913 1426.9 L915 1425.0 L917 1426.6 L919 1426.3 L921 1425.8 L923 1426.8 L925 1426.3 L927 1426.1 L929 1428.6 L931 1426.3 L933 1426.3 L935 1425.1 L937 1424.5 L939 1426.9 L941 1426.4 L943 1427.1 L945 1429.4 L947 1426.5 L949 1425.1 L951 1424.3 L953 1426.4 L955 1427.6 L957 1427.4 L959 1426.6 L961 1426.2 L963 1426.2 L965 1425.8 L967 1426.7 L969 1425.8 L971 1425.8 L973 1426.3 L975 1426.2 L977 1427.5 L979 1426.3 L981 1426.7 L983 1426.8 L985 1425.3 L987 1426.4 L989 1427.3 L991 1427.0 L993 1426.7 L995 1425.8 L997 1427.2 L999 1426.8 L1001 1426.8 L1003 1426.9 L1005 1425.5 L1007 1425.0 L1009 1427.1 L1011 1426.4 L1013 1425.4 L1015 1426.3 L1017 1426.7 L1019 1426.2 L1021 1425.4 L1023 1426.7 L1025 1425.5 L1027 1426.0 L1029 1425.8 L1031 1425.7 L1033 1426.5 L1035 1425.4 L1037 1426.3 L1039 1425.9 L1041 1426.2 L1043 1426.1 L1045 1424.5 L1047 1425.7 L1049 1425.9 L1051 1426.0 L1053 1428.3 L1055 1426.2 L1057 1425.9 L1059 1426.5 L1061 1426.0 L1063 1425.9 L1065 1426.6 L1067 1426.2 L1069 1425.8 L1071 1425.1 L1073 1426.0 L1075 1425.9 L1077 1425.9 L1079 1425.7 L1081 1424.8 L1083 1425.7 L1085 1425.9 L1087 1424.5 L1089 1425.4 L1091 1425.0 L1093 1425.6 L1095 1425.8 L1097 1426.1 L1099 1424.4 L1101 1424.6 L1103 1423.9 L1105 1420.1 L1107 1422.2 L1109 1425.5 L1111 1424.1 L1113 1425.3 L1115 1425.3 L1117 1422.6 L1119 1423.2 L1121 1422.7 L1123 1423.9 L1125 1422.3 L1127 1423.5 L1129 1421.9 L1131 1422.8 L1133 1422.8 L1135 1422.0 L1137 1421.4 L1139 1416.5 L1141 1421.7 L1143 1421.4 L1145 1421.1 L1147 1420.6 L1149 1419.2 L1151 1418.8 L1153 1419.1 L1155 1416.3 L1157 1416.5 L1159 1416.0 L1161 1413.2 L1163 1413.4 L1165 1409.4 L1167 1412.0 L1169 1406.3 L1171 1403.9 L1173 1398.8 L1175 1395.5 L1177 1388.7 L1179 1382.6 L1181 1372.6 L1183 1362.6 L1185 1349.9 L1187 1333.0 L1189 1314.6 L1191 1294.7 L1193 1277.4 L1195 1263.3 L1197 1258.8 L1199 1261.9 L1201 1274.6 L1203 1292.7 L1205 1311.7 L1207 1329.9 L1209 1345.5 L1211 1360.4 L1213 1372.0 L1215 1381.7 L1217 1388.7 L1219 1393.2 L1221 1397.5 L1223 1402.1 L1225 1405.7 L1227 1406.6 L1229 1411.1 L1231 1409.1 L1233 1413.3 L1235 1416.1 L1237 1415.7 L1239 1417.0 L1241 1417.6 L1243 1417.9 L1245 1420.1 L1247 1419.6 L1249 1421.3 L1251 1418.9 L1253 1421.3 L1255 1421.7 L1257 1421.7 L1259 1421.1 L1261 1421.4 L1263 1423.0 L1265 1422.3 L1267 1423.4 L1269 1422.5 L1271 1424.4 L1273 1423.5 L1275 1422.8 L1277 1423.7 L1279 1424.7 L1281 1423.8 L1283 1424.4 L1285 1424.3 L1287 1423.3 L1289 1423.8 L1291 1424.5 L1293 1422.7 L1295 1425.1 L1297 1423.9 L1299 1424.2 L1301 1423.9 L1303 1428.5 L1305 1425.2 L1307 1424.2 L1309 1424.1 L1311 1423.4 L1313 1425.2 L1315 1426.3 L1317 1423.8 L1319 1424.2 L1321 1425.1 L1323 1424.9 L1325 1425.2 L1327 1423.9 L1329 1423.4 L1331 1424.2 L1333 1424.0 L1335 1425.1 L1337 1425.6 L1339 1425.9 L1341 1424.2 L1343 1425.0 L1345 1424.3 L1347 1426.1 L1349 1422.2 L1351 1425.1 L1353 1425.7 L1355 1423.8 L1357 1423.0 L1359 1423.7 L1361 1422.3 L1363 1423.5 L1365 1423.0 L1367 1424.0 L1369 1423.9 L1371 1423.1 L1373 1422.8 L1375 1423.3 L1377 1422.6 L1379 1423.0 L1381 1422.4 L1383 1421.7 L1385 1421.0 L1387 1421.6 L1389 1420.7 L1391 1421.0 L1393 1420.5 L1395 1418.7 L1397 1418.3 L1399 1418.2 L1401 1417.8 L1403 1416.1 L1405 1414.8 L1407 1413.4 L1409 1414.0 L1411 1410.4 L1413 1407.8 L1415 1404.7 L1417 1402.0 L1419 1398.1 L1421 1393.3 L1423 1385.9 L1425 1378.3 L1427 1368.0 L1429 1355.7 L1431 1342.0 L1433 1329.8 L1435 1318.9 L1437 1311.2 L1439 1311.5 L1441 1314.7 L1443 1326.6 L1445 1337.0 L1447 1349.6 L1449 1361.4 L1451 1373.7 L1453 1381.6 L1455 1388.7 L1457 1395.0 L1459 1400.1 L1461 1402.8 L1463 1405.1 L1465 1408.2 L1467 1409.8 L1469 1411.8 L1471 1413.1 L1473 1413.7 L1475 1413.0 L1477 1414.7 L1479 1416.4 L1481 1415.4 L1483 1416.1 L1485 1417.5 L1487 1415.9 L1489 1417.7 L1491 1418.0 L1493 1416.4 L1495 1416.1 L1497 1416.9 L1499 1415.3 L1501 1414.8 L1503 1415.1 L1505 1412.7 L1507 1411.8 L1509 1410.0 L1511 1408.6 L1513 1405.4 L1515 1404.9 L1517 1405.9 L1519 1406.7 L1521 1407.6 L1523 1409.8 L1525 1410.8 L1527 1414.3 L1529 1416.8 L1531 1417.1 L1533 1417.6 L1535 1418.4 L1537 1419.7 L1539 1420.1 L1541 1421.3 L1543 1422.2 L1545 1422.3 L1547 1423.2 L1549 1423.2 L1551 1424.1 L1553 1423.0 L1555 1422.6 L1557 1424.4 L1559 1424.6 L1561 1423.9 L1563 1425.8 L1565 1423.2 L1567 1424.2 L1569 1424.7 L1571 1425.2 L1573 1425.4 L1575 1424.3 L1577 1426.6 L1579 1426.2 L1581 1426.4 L1583 1425.9 L1585 1427.5 L1587 1426.1 L1589 1426.3 L1591 1426.0 L1593 1426.7 L1595 1425.7 L1597 1426.1 L1599 1426.4 L1601 1426.7 L1603 1428.3 L1605 1426.6 L1607 1426.7 L1609 1427.7 L1611 1426.7 L1613 1426.9 L1615 1427.4 L1617 1427.9 L1619 1427.3 L1621 1427.9 L1623 1428.3 L1625 1428.2 L1627 1427.4 L1629 1427.4 L1631 1427.1 L1633 1429.6 L1635 1427.8 L1637 1427.2 L1639 1428.4 L1641 1429.3 L1643 1428.0 L1645 1428.5 L1647 1429.9 L1649 1432.7 L1651 1428.5 L1653 1429.4 L1655 1428.5 L1657 1428.9 L1659 1428.2 L1661 1430.6 L1663 1430.9 L1665 1428.9 L1667 1430.4 L1669 1430.3 L1671 1430.5 L1673 1430.3 L1675 1429.4 L1677 1429.9 L1679 1428.5 L1681 1428.1 L1683 1429.8 L1685 1429.9 L1687 1430.3 L1689 1428.3 L1691 1429.0 L1693 1429.7 L1695 1429.8 L1697 1430.2 L1699 1430.7 L1701 1429.4 L1703 1430.2 L1705 1430.3 L1707 1429.9 L1709 1430.2 L1711 1431.4 L1713 1430.4 L1715 1429.4 L1717 1430.2 L1719 1429.4 L1721 1429.0 L1723 1430.5 L1725 1430.4 L1727 1430.5 L1729 1428.3 L1731 1429.0 L1733 1429.2 L1735 1430.4 L1737 1429.1 L1739 1429.6 L1741 1430.1 L1743 1429.2 L1745 1427.2 L1747 1429.8 L1749 1429.7 L1751 1429.1 L1753 1428.5 L1755 1427.0 L1757 1426.8 L1759 1428.4 L1761 1428.5 L1763 1427.5 L1765 1428.0 L1767 1427.4 L1769 1427.0 L1771 1426.1 L1773 1426.4 L1775 1425.8 L1777 1423.1 L1779 1423.5 L1781 1420.9 L1783 1419.8 L1785 1418.8 L1787 1416.8 L1789 1415.1 L1791 1412.5 L1793 1408.6 L1795 1406.0 L1797 1406.6 L1799 1404.6 L1801 1405.4 L1803 1407.2 L1805 1408.4 L1807 1410.2 L1809 1411.0 L1811 1415.1 L1813 1415.6 L1815 1418.9 L1817 1420.5 L1819 1422.1 L1821 1424.1 L1823 1423.5 L1825 1425.7 L1827 1426.4 L1829 1426.2 L1831 1425.9 L1833 1426.8 L1835 1427.9 L1837 1427.3 L1839 1425.5 L1841 1428.1 L1843 1427.5 L1845 1428.8 L1847 1429.3 L1849 1428.8 L1851 1428.4 L1853 1428.7 L1855 1431.1 L1857 1428.1 L1859 1429.0 L1861 1430.0 L1863 1429.9 L1865 1428.1 L1867 1428.9 L1869 1429.2 L1871 1429.7 L1873 1428.9 L1875 1429.3 L1877 1429.9 L1879 1429.1 L1881 1429.9 L1883 1429.2 L1885 1427.7 L1887 1427.4 L1889 1428.1 L1891 1428.6 L1893 1428.7 L1895 1427.8 L1897 1428.5 L1899 1429.9 L1901 1428.5 L1903 1428.8 L1905 1428.8 L1907 1428.7 L1909 1429.4 L1911 1428.5 L1913 1428.6 L1915 1428.5 L1917 1429.7 L1919 1428.2 L1921 1428.5 L1923 1428.7 L1925 1428.2 L1927 1427.9 L1929 1428.0 L1931 1423.8 L1933 1427.8 L1935 1427.6 L1937 1426.3 L1939 1425.4 L1941 1425.4 L1943 1426.2 L1945 1424.8 L1947 1425.5 L1949 1424.9 L1951 1424.0 L1953 1423.9 L1955 1423.8 L1957 1423.7 L1959 1423.9 L1961 1422.0 L1963 1421.3 L1965 1422.0 L1967 1420.3 L1969 1420.0 L1971 1418.4 L1973 1417.0 L1975 1416.7 L1977 1412.9 L1979 1412.2 L1981 1410.1 L1983 1407.6 L1985 1405.9 L1987 1403.2 L1989 1400.3 L1991 1397.0 L1993 1393.8 L1995 1393.4 L1997 1393.3 L1999 1392.4 L2001 1394.4 L2003 1395.8 L2005 1398.1 L2007 1398.9 L2009 1400.7 L2011 1404.9 L2013 1406.7 L2015 1406.2 L2017 1411.1 L2019 1410.7 L2021 1413.2 L2023 1413.0 L2025 1413.9 L2027 1415.3 L2029 1415.3 L2031 1414.3 L2033 1415.2 L2035 1414.2 L2037 1413.7 L2039 1414.6 L2041 1412.7 L2043 1413.0 L2045 1409.4 L2047 1408.7 L2049 1407.2 L2051 1406.8 L2053 1404.0 L2055 1403.0 L2057 1400.8 L2059 1400.0 L2061 1401.9 L2063 1403.6 L2065 1400.7 L2067 1405.0 L2069 1409.1 L2071 1409.2 L2073 1412.9 L2075 1413.2 L2077 1416.1 L2079 1416.7 L2081 1417.6 L2083 1418.9 L2085 1419.6 L2087 1421.3 L2089 1421.4 L2091 1422.2 L2093 1423.7 L2095 1422.5 L2097 1422.7 L2099 1425.9 L2101 1424.8 L2103 1426.3 L2105 1427.0 L2107 1425.9 L2109 1424.2 L2111 1426.7 L2113 1426.2 L2115 1426.4 L2117 1426.8 L2119 1428.0 L2121 1428.2 L2123 1428.3 L2125 1428.5 L2127 1428.8 L2129 1427.9 L2131 1427.0 L2133 1427.5 L2135 1428.8 L2137 1429.1 L2139 1427.0 L2141 1429.6 L2143 1429.2 L2145 1429.0 L2147 1428.8 L2149 1429.2 L2151 1429.5 L2153 1429.0 L2155 1429.8 L2157 1430.0 L2159 1429.6 L2161 1429.2 L2163 1428.8 L2165 1429.1 L2167 1427.7 L2169 1429.3 L2171 1429.5 L2173 1430.0 L2175 1429.6 L2177 1428.7 L2179 1429.0 L2181 1429.7 L2183 1433.3 L2185 1430.9 L2187 1429.8 L2189 1428.6 L2191 1430.2 L2193 1427.9 L2195 1429.8 L2197 1430.0 L2199 1430.2 L2201 1430.0 L2203 1430.6 L2205 1430.1 L2207 1428.9 L2209 1430.7 L2211 1429.1 L2213 1429.7 L2215 1430.8 L2217 1430.0 L2219 1429.0 L2221 1429.2 L2223 1428.1 L2225 1426.3 L2227 1429.7 L2229 1428.5 L2231 1429.5 L2233 1428.8 L2235 1429.3 L2237 1428.4 L2239 1430.0 L2241 1427.4 L2243 1428.5 L2245 1427.2 L2247 1428.2 L2249 1426.1 L2251 1427.1 L2253 1428.8 L2255 1428.0 L2257 1427.7 L2259 1431.1 L2261 1429.1 L2263 1427.0 L2265 1427.6 L2267 1427.9 L2269 1426.4 L2271 1426.9 L2273 1426.1 L2275 1426.8 L2277 1426.6 L2279 1426.6 L2281 1424.7 L2283 1426.6 L2285 1426.0 L2287 1424.4 L2289 1423.7 L2291 1423.2 L2293 1422.8 L2295 1420.0 L2297 1419.1 L2299 1418.6 L2301 1415.8 L2303 1413.7 L2305 1408.9 L2307 1407.7 L2309 1405.7 L2311 1405.5 L2313 1397.2 L2315 1397.2 L2317 1395.8 L2319 1395.6 L2321 1398.3 L2323 1399.8 L2325 1401.7 L2327 1405.9 L2329 1408.5 L2331 1415.8 L2333 1412.9 L2335 1414.9 L2337 1416.8 L2339 1418.4 L2341 1419.3 L2343 1420.3 L2345 1421.2 L2347 1423.5 L2349 1421.7 L2351 1423.1 L2353 1424.1"/>
</g>
<g fill="none" stroke="#000000" stroke-width="8.5" stroke-linejoin="round" stroke-linecap="butt">
<path transform="translate(0,-0.60)" d="M173 1682.6 L175 1681.0 L177 1682.2 L179 1682.7 L181 1683.7 L183 1685.3 L185 1683.7 L187 1683.5 L189 1683.4 L191 1682.3 L193 1685.6 L195 1684.3 L197 1685.0 L199 1685.4 L201 1685.6 L203 1685.9 L205 1684.7 L207 1684.9 L209 1685.9 L211 1685.2 L213 1686.1 L215 1687.2 L217 1686.9 L219 1687.2 L221 1687.6 L223 1686.3 L225 1687.7 L227 1687.1 L229 1688.2 L231 1687.2 L233 1687.3 L235 1689.1 L237 1688.4 L239 1688.5 L241 1688.6 L243 1690.3 L245 1689.4 L247 1685.1 L249 1690.6 L251 1690.8 L253 1691.3 L255 1690.3 L257 1690.6 L259 1690.1 L261 1692.6 L263 1691.6 L265 1691.6 L267 1692.8 L269 1692.7 L271 1692.9 L273 1693.8 L275 1693.8 L277 1695.1 L279 1695.5 L281 1694.5 L283 1695.6 L285 1694.4 L287 1695.1 L289 1696.6 L291 1696.8 L293 1696.9 L295 1696.6 L297 1696.4 L299 1697.0 L301 1696.9 L303 1697.4 L305 1697.1 L307 1697.4 L309 1697.3 L311 1696.3 L313 1698.0 L315 1698.3 L317 1697.4 L319 1697.0 L321 1702.8 L323 1697.1 L325 1698.3 L327 1698.9 L329 1700.0 L331 1698.6 L333 1701.1 L335 1700.6 L337 1699.6 L339 1699.6 L341 1700.2 L343 1704.2 L345 1701.7 L347 1699.7 L349 1699.8 L351 1699.3 L353 1698.8 L355 1701.3 L357 1700.5 L359 1700.3 L361 1699.4 L363 1700.6 L365 1700.7 L367 1702.2 L369 1700.9 L371 1702.4 L373 1701.3 L375 1701.6 L377 1700.1 L379 1702.1 L381 1702.3 L383 1702.1 L385 1703.6 L387 1701.9 L389 1702.9 L391 1702.2 L393 1702.9 L395 1702.4 L397 1703.1 L399 1702.3 L401 1703.0 L403 1704.1 L405 1703.2 L407 1703.7 L409 1704.0 L411 1703.3 L413 1702.6 L415 1704.2 L417 1702.8 L419 1702.8 L421 1704.3 L423 1703.1 L425 1703.7 L427 1704.2 L429 1704.4 L431 1704.5 L433 1703.3 L435 1703.1 L437 1704.3 L439 1703.3 L441 1704.4 L443 1704.1 L445 1704.0 L447 1704.7 L449 1705.0 L451 1705.9 L453 1704.5 L455 1704.3 L457 1704.2 L459 1705.0 L461 1705.0 L463 1701.9 L465 1706.6 L467 1706.4 L469 1703.8 L471 1706.6 L473 1705.5 L475 1703.8 L477 1705.6 L479 1705.7 L481 1707.4 L483 1704.9 L485 1705.4 L487 1705.7 L489 1706.5 L491 1706.8 L493 1704.5 L495 1705.1 L497 1705.5 L499 1706.0 L501 1705.8 L503 1705.7 L505 1706.3 L507 1706.0 L509 1705.9 L511 1706.2 L513 1705.3 L515 1707.5 L517 1707.2 L519 1707.2 L521 1705.4 L523 1706.4 L525 1707.9 L527 1706.4 L529 1708.3 L531 1707.1 L533 1706.5 L535 1706.5 L537 1705.6 L539 1707.5 L541 1707.6 L543 1710.6 L545 1706.9 L547 1708.0 L549 1706.0 L551 1706.7 L553 1706.8 L555 1707.7 L557 1706.8 L559 1708.0 L561 1706.7 L563 1708.3 L565 1707.4 L567 1707.3 L569 1707.3 L571 1708.2 L573 1707.4 L575 1707.4 L577 1707.6 L579 1707.3 L581 1706.4 L583 1706.4 L585 1706.7 L587 1707.5 L589 1707.4 L591 1709.2 L593 1707.2 L595 1708.0 L597 1707.3 L599 1707.4 L601 1705.9 L603 1705.6 L605 1707.6 L607 1706.2 L609 1707.8 L611 1706.8 L613 1706.1 L615 1705.4 L617 1705.5 L619 1707.2 L621 1706.7 L623 1704.9 L625 1704.2 L627 1704.3 L629 1705.0 L631 1703.1 L633 1701.4 L635 1703.3 L637 1698.4 L639 1700.4 L641 1698.8 L643 1698.4 L645 1696.4 L647 1696.6 L649 1693.7 L651 1693.0 L653 1688.8 L655 1686.5 L657 1679.6 L659 1670.7 L661 1661.4 L663 1644.1 L665 1621.6 L667 1590.1 L669 1550.8 L671 1505.8 L673 1457.4 L675 1413.0 L677 1392.5 L679 1396.2 L681 1427.2 L683 1472.5 L685 1520.7 L687 1565.2 L689 1600.3 L691 1629.4 L693 1646.6 L695 1665.7 L697 1675.5 L699 1682.4 L701 1686.8 L703 1691.3 L705 1693.9 L707 1695.2 L709 1697.0 L711 1698.7 L713 1698.8 L715 1700.8 L717 1701.9 L719 1703.6 L721 1704.5 L723 1702.1 L725 1703.2 L727 1704.1 L729 1703.7 L731 1705.4 L733 1705.5 L735 1706.5 L737 1705.8 L739 1707.2 L741 1707.2 L743 1706.3 L745 1705.9 L747 1707.5 L749 1706.0 L751 1705.5 L753 1706.6 L755 1706.1 L757 1705.0 L759 1706.7 L761 1704.8 L763 1705.7 L765 1705.0 L767 1704.4 L769 1703.9 L771 1702.9 L773 1700.2 L775 1700.7 L777 1700.0 L779 1697.8 L781 1697.8 L783 1694.2 L785 1691.2 L787 1686.4 L789 1678.3 L791 1671.6 L793 1660.6 L795 1652.0 L797 1639.4 L799 1627.3 L801 1619.4 L803 1619.4 L805 1625.3 L807 1635.8 L809 1648.1 L811 1660.1 L813 1669.8 L815 1678.5 L817 1684.3 L819 1690.3 L821 1693.8 L823 1696.7 L825 1700.0 L827 1700.8 L829 1701.6 L831 1703.6 L833 1706.4 L835 1706.0 L837 1706.0 L839 1706.6 L841 1708.5 L843 1710.0 L845 1708.3 L847 1708.0 L849 1708.4 L851 1710.3 L853 1709.5 L855 1709.5 L857 1708.2 L859 1709.6 L861 1712.0 L863 1711.0 L865 1711.5 L867 1709.8 L869 1709.8 L871 1711.1 L873 1711.5 L875 1711.3 L877 1711.3 L879 1711.0 L881 1711.9 L883 1711.5 L885 1710.5 L887 1711.9 L889 1708.3 L891 1710.8 L893 1713.0 L895 1710.7 L897 1711.8 L899 1712.9 L901 1711.3 L903 1712.1 L905 1712.9 L907 1712.4 L909 1712.6 L911 1712.4 L913 1712.5 L915 1711.3 L917 1711.5 L919 1712.3 L921 1712.6 L923 1710.9 L925 1711.6 L927 1713.3 L929 1713.4 L931 1712.6 L933 1712.6 L935 1710.8 L937 1712.2 L939 1710.6 L941 1713.2 L943 1713.7 L945 1713.8 L947 1712.5 L949 1712.4 L951 1714.9 L953 1713.5 L955 1713.4 L957 1713.3 L959 1712.3 L961 1712.9 L963 1712.4 L965 1713.1 L967 1711.7 L969 1711.5 L971 1711.9 L973 1712.9 L975 1714.0 L977 1712.4 L979 1713.4 L981 1714.2 L983 1712.1 L985 1712.7 L987 1711.9 L989 1713.5 L991 1713.9 L993 1711.1 L995 1713.2 L997 1712.8 L999 1713.3 L1001 1713.6 L1003 1712.0 L1005 1713.6 L1007 1708.9 L1009 1713.6 L1011 1712.8 L1013 1713.8 L1015 1712.8 L1017 1712.1 L1019 1713.2 L1021 1712.4 L1023 1712.9 L1025 1714.3 L1027 1713.1 L1029 1711.8 L1031 1712.2 L1033 1712.3 L1035 1713.4 L1037 1713.8 L1039 1712.2 L1041 1713.0 L1043 1713.1 L1045 1712.8 L1047 1714.2 L1049 1714.5 L1051 1712.5 L1053 1714.1 L1055 1712.6 L1057 1712.9 L1059 1713.8 L1061 1712.7 L1063 1713.2 L1065 1713.5 L1067 1714.0 L1069 1712.7 L1071 1710.5 L1073 1712.6 L1075 1713.3 L1077 1712.0 L1079 1712.7 L1081 1713.1 L1083 1713.3 L1085 1713.2 L1087 1713.8 L1089 1714.0 L1091 1712.0 L1093 1711.7 L1095 1712.9 L1097 1712.9 L1099 1713.5 L1101 1710.9 L1103 1713.1 L1105 1712.9 L1107 1711.5 L1109 1711.7 L1111 1710.2 L1113 1712.0 L1115 1712.6 L1117 1710.4 L1119 1708.2 L1121 1712.6 L1123 1713.1 L1125 1710.8 L1127 1710.5 L1129 1711.6 L1131 1709.6 L1133 1710.4 L1135 1711.0 L1137 1710.5 L1139 1710.0 L1141 1709.8 L1143 1708.6 L1145 1708.4 L1147 1707.6 L1149 1707.4 L1151 1706.6 L1153 1706.7 L1155 1706.0 L1157 1704.5 L1159 1704.9 L1161 1702.8 L1163 1702.4 L1165 1700.3 L1167 1698.3 L1169 1697.5 L1171 1694.0 L1173 1689.4 L1175 1685.8 L1177 1682.6 L1179 1675.0 L1181 1666.4 L1183 1656.8 L1185 1644.1 L1187 1632.7 L1189 1614.9 L1191 1598.5 L1193 1582.0 L1195 1568.4 L1197 1565.1 L1199 1568.9 L1201 1581.6 L1203 1594.9 L1205 1613.1 L1207 1629.0 L1209 1645.1 L1211 1655.8 L1213 1664.7 L1215 1673.5 L1217 1681.0 L1219 1685.7 L1221 1690.7 L1223 1693.6 L1225 1696.7 L1227 1698.1 L1229 1699.8 L1231 1702.2 L1233 1702.7 L1235 1704.3 L1237 1704.4 L1239 1706.1 L1241 1706.4 L1243 1708.5 L1245 1708.2 L1247 1710.6 L1249 1709.0 L1251 1710.6 L1253 1710.4 L1255 1710.4 L1257 1712.1 L1259 1710.9 L1261 1711.3 L1263 1711.0 L1265 1712.1 L1267 1712.5 L1269 1713.0 L1271 1713.5 L1273 1712.3 L1275 1714.0 L1277 1712.0 L1279 1713.5 L1281 1712.6 L1283 1713.0 L1285 1714.0 L1287 1712.5 L1289 1714.3 L1291 1713.4 L1293 1714.8 L1295 1714.1 L1297 1714.8 L1299 1713.6 L1301 1714.7 L1303 1713.9 L1305 1715.1 L1307 1714.9 L1309 1714.7 L1311 1713.6 L1313 1713.7 L1315 1713.7 L1317 1714.5 L1319 1713.8 L1321 1714.3 L1323 1714.1 L1325 1712.8 L1327 1713.5 L1329 1715.9 L1331 1715.9 L1333 1713.5 L1335 1715.2 L1337 1713.8 L1339 1715.0 L1341 1719.1 L1343 1714.1 L1345 1715.1 L1347 1714.5 L1349 1712.1 L1351 1714.2 L1353 1715.7 L1355 1714.5 L1357 1714.8 L1359 1713.7 L1361 1713.9 L1363 1711.8 L1365 1713.7 L1367 1712.1 L1369 1713.1 L1371 1712.4 L1373 1713.8 L1375 1714.0 L1377 1712.9 L1379 1712.9 L1381 1712.7 L1383 1711.6 L1385 1711.7 L1387 1711.7 L1389 1711.3 L1391 1710.2 L1393 1713.1 L1395 1709.2 L1397 1707.9 L1399 1708.2 L1401 1708.8 L1403 1706.5 L1405 1706.2 L1407 1704.9 L1409 1704.4 L1411 1702.1 L1413 1699.6 L1415 1697.4 L1417 1694.0 L1419 1690.3 L1421 1683.6 L1423 1678.5 L1425 1670.4 L1427 1662.5 L1429 1650.3 L1431 1638.0 L1433 1626.3 L1435 1616.0 L1437 1610.0 L1439 1609.1 L1441 1615.1 L1443 1622.4 L1445 1634.7 L1447 1647.2 L1449 1656.8 L1451 1667.0 L1453 1675.7 L1455 1681.7 L1457 1684.1 L1459 1691.5 L1461 1694.6 L1463 1697.3 L1465 1699.5 L1467 1701.2 L1469 1702.8 L1471 1703.1 L1473 1705.5 L1475 1705.4 L1477 1707.3 L1479 1706.4 L1481 1708.4 L1483 1707.4 L1485 1708.5 L1487 1708.5 L1489 1707.8 L1491 1707.6 L1493 1707.8 L1495 1708.2 L1497 1708.4 L1499 1705.5 L1501 1705.6 L1503 1704.9 L1505 1703.5 L1507 1702.3 L1509 1698.1 L1511 1699.2 L1513 1695.6 L1515 1697.0 L1517 1696.0 L1519 1696.8 L1521 1699.4 L1523 1700.7 L1525 1702.0 L1527 1705.2 L1529 1705.0 L1531 1707.0 L1533 1708.2 L1535 1709.3 L1537 1710.1 L1539 1711.0 L1541 1711.3 L1543 1712.7 L1545 1713.3 L1547 1713.0 L1549 1712.4 L1551 1713.6 L1553 1713.0 L1555 1714.9 L1557 1713.9 L1559 1715.2 L1561 1715.5 L1563 1713.2 L1565 1713.8 L1567 1714.5 L1569 1715.2 L1571 1715.7 L1573 1714.8 L1575 1714.6 L1577 1714.5 L1579 1716.5 L1581 1715.1 L1583 1714.2 L1585 1716.2 L1587 1714.7 L1589 1715.4 L1591 1716.3 L1593 1720.9 L1595 1716.6 L1597 1715.7 L1599 1716.2 L1601 1714.6 L1603 1716.6 L1605 1715.3 L1607 1715.7 L1609 1716.2 L1611 1716.4 L1613 1717.0 L1615 1716.7 L1617 1716.1 L1619 1717.1 L1621 1716.9 L1623 1715.3 L1625 1715.9 L1627 1715.8 L1629 1717.1 L1631 1716.6 L1633 1717.0 L1635 1716.4 L1637 1715.0 L1639 1715.1 L1641 1716.1 L1643 1715.8 L1645 1715.9 L1647 1715.1 L1649 1713.9 L1651 1715.3 L1653 1717.4 L1655 1715.6 L1657 1717.1 L1659 1715.6 L1661 1716.8 L1663 1716.7 L1665 1716.6 L1667 1715.9 L1669 1716.3 L1671 1717.1 L1673 1711.3 L1675 1715.8 L1677 1716.2 L1679 1716.0 L1681 1717.3 L1683 1715.4 L1685 1715.9 L1687 1715.6 L1689 1715.5 L1691 1716.5 L1693 1716.4 L1695 1718.4 L1697 1714.4 L1699 1715.9 L1701 1717.2 L1703 1716.1 L1705 1716.4 L1707 1715.7 L1709 1716.7 L1711 1717.7 L1713 1717.0 L1715 1714.2 L1717 1716.5 L1719 1717.4 L1721 1716.9 L1723 1716.8 L1725 1716.1 L1727 1717.7 L1729 1716.9 L1731 1715.3 L1733 1716.6 L1735 1717.6 L1737 1715.3 L1739 1715.2 L1741 1716.0 L1743 1717.6 L1745 1715.1 L1747 1715.5 L1749 1715.3 L1751 1716.2 L1753 1715.4 L1755 1715.4 L1757 1715.6 L1759 1715.4 L1761 1715.8 L1763 1714.3 L1765 1713.0 L1767 1715.1 L1769 1714.4 L1771 1712.3 L1773 1713.6 L1775 1712.3 L1777 1712.2 L1779 1711.2 L1781 1709.1 L1783 1709.4 L1785 1706.8 L1787 1704.5 L1789 1704.1 L1791 1702.2 L1793 1701.1 L1795 1697.5 L1797 1696.4 L1799 1697.9 L1801 1695.8 L1803 1697.9 L1805 1698.3 L1807 1700.6 L1809 1701.9 L1811 1705.3 L1813 1705.7 L1815 1707.7 L1817 1709.1 L1819 1710.9 L1821 1711.5 L1823 1713.2 L1825 1712.3 L1827 1714.2 L1829 1713.3 L1831 1713.5 L1833 1715.0 L1835 1712.7 L1837 1715.9 L1839 1716.2 L1841 1719.8 L1843 1715.7 L1845 1716.0 L1847 1716.8 L1849 1715.8 L1851 1715.7 L1853 1716.9 L1855 1715.3 L1857 1714.5 L1859 1715.4 L1861 1716.7 L1863 1716.9 L1865 1715.4 L1867 1714.3 L1869 1716.0 L1871 1716.3 L1873 1716.6 L1875 1717.2 L1877 1716.9 L1879 1717.1 L1881 1714.5 L1883 1715.6 L1885 1716.0 L1887 1715.7 L1889 1715.2 L1891 1716.4 L1893 1716.0 L1895 1716.4 L1897 1715.3 L1899 1715.7 L1901 1715.9 L1903 1719.4 L1905 1715.9 L1907 1715.4 L1909 1716.0 L1911 1714.9 L1913 1716.5 L1915 1716.6 L1917 1717.3 L1919 1714.9 L1921 1715.0 L1923 1716.2 L1925 1716.8 L1927 1715.8 L1929 1716.8 L1931 1713.9 L1933 1714.8 L1935 1715.4 L1937 1718.0 L1939 1715.6 L1941 1715.3 L1943 1714.8 L1945 1713.9 L1947 1713.8 L1949 1714.1 L1951 1714.0 L1953 1712.3 L1955 1712.8 L1957 1713.5 L1959 1712.4 L1961 1711.7 L1963 1711.6 L1965 1711.5 L1967 1708.7 L1969 1709.2 L1971 1707.7 L1973 1707.8 L1975 1706.9 L1977 1705.4 L1979 1703.7 L1981 1701.5 L1983 1698.2 L1985 1695.3 L1987 1693.6 L1989 1692.0 L1991 1689.7 L1993 1685.8 L1995 1685.4 L1997 1684.3 L1999 1685.2 L2001 1686.3 L2003 1687.3 L2005 1688.5 L2007 1691.8 L2009 1692.6 L2011 1698.5 L2013 1697.8 L2015 1700.9 L2017 1702.5 L2019 1704.2 L2021 1705.7 L2023 1706.6 L2025 1704.8 L2027 1706.8 L2029 1708.2 L2031 1708.7 L2033 1707.6 L2035 1708.5 L2037 1707.9 L2039 1707.5 L2041 1706.4 L2043 1705.1 L2045 1705.6 L2047 1702.0 L2049 1700.7 L2051 1700.3 L2053 1698.4 L2055 1697.2 L2057 1697.2 L2059 1694.0 L2061 1696.2 L2063 1697.2 L2065 1697.9 L2067 1699.9 L2069 1700.2 L2071 1701.6 L2073 1704.8 L2075 1704.4 L2077 1707.7 L2079 1708.7 L2081 1710.0 L2083 1709.0 L2085 1710.9 L2087 1710.8 L2089 1715.5 L2091 1712.8 L2093 1713.6 L2095 1713.4 L2097 1711.1 L2099 1713.6 L2101 1713.7 L2103 1714.0 L2105 1714.9 L2107 1714.1 L2109 1715.0 L2111 1715.4 L2113 1716.3 L2115 1715.0 L2117 1715.4 L2119 1714.1 L2121 1714.7 L2123 1714.5 L2125 1715.2 L2127 1715.2 L2129 1716.9 L2131 1719.1 L2133 1716.0 L2135 1713.8 L2137 1716.2 L2139 1716.2 L2141 1716.9 L2143 1716.2 L2145 1716.9 L2147 1716.1 L2149 1716.8 L2151 1714.9 L2153 1715.8 L2155 1717.1 L2157 1714.6 L2159 1715.3 L2161 1716.5 L2163 1715.2 L2165 1715.5 L2167 1715.6 L2169 1716.7 L2171 1716.3 L2173 1716.8 L2175 1714.2 L2177 1717.0 L2179 1716.1 L2181 1716.5 L2183 1716.8 L2185 1717.2 L2187 1715.8 L2189 1715.6 L2191 1716.9 L2193 1716.4 L2195 1715.6 L2197 1715.8 L2199 1716.2 L2201 1714.5 L2203 1716.0 L2205 1716.3 L2207 1714.8 L2209 1715.0 L2211 1716.4 L2213 1715.8 L2215 1716.7 L2217 1714.6 L2219 1716.5 L2221 1717.2 L2223 1715.5 L2225 1714.7 L2227 1715.4 L2229 1717.0 L2231 1715.9 L2233 1716.5 L2235 1715.3 L2237 1715.8 L2239 1715.1 L2241 1716.2 L2243 1715.2 L2245 1714.6 L2247 1715.7 L2249 1714.7 L2251 1715.3 L2253 1715.0 L2255 1715.3 L2257 1713.5 L2259 1718.6 L2261 1713.7 L2263 1715.6 L2265 1714.6 L2267 1714.4 L2269 1713.1 L2271 1713.3 L2273 1713.4 L2275 1714.3 L2277 1712.4 L2279 1713.5 L2281 1713.3 L2283 1712.6 L2285 1712.0 L2287 1712.5 L2289 1710.2 L2291 1709.5 L2293 1709.4 L2295 1706.9 L2297 1707.1 L2299 1704.4 L2301 1704.0 L2303 1700.1 L2305 1699.5 L2307 1696.7 L2309 1694.1 L2311 1690.4 L2313 1689.9 L2315 1688.3 L2317 1685.3 L2319 1688.2 L2321 1689.0 L2323 1691.0 L2325 1692.9 L2327 1696.4 L2329 1697.3 L2331 1701.0 L2333 1701.9 L2335 1704.1 L2337 1704.6 L2339 1706.9 L2341 1707.5 L2343 1709.5 L2345 1709.3 L2347 1708.9 L2349 1709.6 L2351 1710.1 L2353 1711.1"/>
<path transform="translate(0,0.60)" d="M173 1682.6 L175 1681.0 L177 1682.2 L179 1682.7 L181 1683.7 L183 1685.3 L185 1683.7 L187 1683.5 L189 1683.4 L191 1682.3 L193 1685.6 L195 1684.3 L197 1685.0 L199 1685.4 L201 1685.6 L203 1685.9 L205 1684.7 L207 1684.9 L209 1685.9 L211 1685.2 L213 1686.1 L215 1687.2 L217 1686.9 L219 1687.2 L221 1687.6 L223 1686.3 L225 1687.7 L227 1687.1 L229 1688.2 L231 1687.2 L233 1687.3 L235 1689.1 L237 1688.4 L239 1688.5 L241 1688.6 L243 1690.3 L245 1689.4 L247 1685.1 L249 1690.6 L251 1690.8 L253 1691.3 L255 1690.3 L257 1690.6 L259 1690.1 L261 1692.6 L263 1691.6 L265 1691.6 L267 1692.8 L269 1692.7 L271 1692.9 L273 1693.8 L275 1693.8 L277 1695.1 L279 1695.5 L281 1694.5 L283 1695.6 L285 1694.4 L287 1695.1 L289 1696.6 L291 1696.8 L293 1696.9 L295 1696.6 L297 1696.4 L299 1697.0 L301 1696.9 L303 1697.4 L305 1697.1 L307 1697.4 L309 1697.3 L311 1696.3 L313 1698.0 L315 1698.3 L317 1697.4 L319 1697.0 L321 1702.8 L323 1697.1 L325 1698.3 L327 1698.9 L329 1700.0 L331 1698.6 L333 1701.1 L335 1700.6 L337 1699.6 L339 1699.6 L341 1700.2 L343 1704.2 L345 1701.7 L347 1699.7 L349 1699.8 L351 1699.3 L353 1698.8 L355 1701.3 L357 1700.5 L359 1700.3 L361 1699.4 L363 1700.6 L365 1700.7 L367 1702.2 L369 1700.9 L371 1702.4 L373 1701.3 L375 1701.6 L377 1700.1 L379 1702.1 L381 1702.3 L383 1702.1 L385 1703.6 L387 1701.9 L389 1702.9 L391 1702.2 L393 1702.9 L395 1702.4 L397 1703.1 L399 1702.3 L401 1703.0 L403 1704.1 L405 1703.2 L407 1703.7 L409 1704.0 L411 1703.3 L413 1702.6 L415 1704.2 L417 1702.8 L419 1702.8 L421 1704.3 L423 1703.1 L425 1703.7 L427 1704.2 L429 1704.4 L431 1704.5 L433 1703.3 L435 1703.1 L437 1704.3 L439 1703.3 L441 1704.4 L443 1704.1 L445 1704.0 L447 1704.7 L449 1705.0 L451 1705.9 L453 1704.5 L455 1704.3 L457 1704.2 L459 1705.0 L461 1705.0 L463 1701.9 L465 1706.6 L467 1706.4 L469 1703.8 L471 1706.6 L473 1705.5 L475 1703.8 L477 1705.6 L479 1705.7 L481 1707.4 L483 1704.9 L485 1705.4 L487 1705.7 L489 1706.5 L491 1706.8 L493 1704.5 L495 1705.1 L497 1705.5 L499 1706.0 L501 1705.8 L503 1705.7 L505 1706.3 L507 1706.0 L509 1705.9 L511 1706.2 L513 1705.3 L515 1707.5 L517 1707.2 L519 1707.2 L521 1705.4 L523 1706.4 L525 1707.9 L527 1706.4 L529 1708.3 L531 1707.1 L533 1706.5 L535 1706.5 L537 1705.6 L539 1707.5 L541 1707.6 L543 1710.6 L545 1706.9 L547 1708.0 L549 1706.0 L551 1706.7 L553 1706.8 L555 1707.7 L557 1706.8 L559 1708.0 L561 1706.7 L563 1708.3 L565 1707.4 L567 1707.3 L569 1707.3 L571 1708.2 L573 1707.4 L575 1707.4 L577 1707.6 L579 1707.3 L581 1706.4 L583 1706.4 L585 1706.7 L587 1707.5 L589 1707.4 L591 1709.2 L593 1707.2 L595 1708.0 L597 1707.3 L599 1707.4 L601 1705.9 L603 1705.6 L605 1707.6 L607 1706.2 L609 1707.8 L611 1706.8 L613 1706.1 L615 1705.4 L617 1705.5 L619 1707.2 L621 1706.7 L623 1704.9 L625 1704.2 L627 1704.3 L629 1705.0 L631 1703.1 L633 1701.4 L635 1703.3 L637 1698.4 L639 1700.4 L641 1698.8 L643 1698.4 L645 1696.4 L647 1696.6 L649 1693.7 L651 1693.0 L653 1688.8 L655 1686.5 L657 1679.6 L659 1670.7 L661 1661.4 L663 1644.1 L665 1621.6 L667 1590.1 L669 1550.8 L671 1505.8 L673 1457.4 L675 1413.0 L677 1392.5 L679 1396.2 L681 1427.2 L683 1472.5 L685 1520.7 L687 1565.2 L689 1600.3 L691 1629.4 L693 1646.6 L695 1665.7 L697 1675.5 L699 1682.4 L701 1686.8 L703 1691.3 L705 1693.9 L707 1695.2 L709 1697.0 L711 1698.7 L713 1698.8 L715 1700.8 L717 1701.9 L719 1703.6 L721 1704.5 L723 1702.1 L725 1703.2 L727 1704.1 L729 1703.7 L731 1705.4 L733 1705.5 L735 1706.5 L737 1705.8 L739 1707.2 L741 1707.2 L743 1706.3 L745 1705.9 L747 1707.5 L749 1706.0 L751 1705.5 L753 1706.6 L755 1706.1 L757 1705.0 L759 1706.7 L761 1704.8 L763 1705.7 L765 1705.0 L767 1704.4 L769 1703.9 L771 1702.9 L773 1700.2 L775 1700.7 L777 1700.0 L779 1697.8 L781 1697.8 L783 1694.2 L785 1691.2 L787 1686.4 L789 1678.3 L791 1671.6 L793 1660.6 L795 1652.0 L797 1639.4 L799 1627.3 L801 1619.4 L803 1619.4 L805 1625.3 L807 1635.8 L809 1648.1 L811 1660.1 L813 1669.8 L815 1678.5 L817 1684.3 L819 1690.3 L821 1693.8 L823 1696.7 L825 1700.0 L827 1700.8 L829 1701.6 L831 1703.6 L833 1706.4 L835 1706.0 L837 1706.0 L839 1706.6 L841 1708.5 L843 1710.0 L845 1708.3 L847 1708.0 L849 1708.4 L851 1710.3 L853 1709.5 L855 1709.5 L857 1708.2 L859 1709.6 L861 1712.0 L863 1711.0 L865 1711.5 L867 1709.8 L869 1709.8 L871 1711.1 L873 1711.5 L875 1711.3 L877 1711.3 L879 1711.0 L881 1711.9 L883 1711.5 L885 1710.5 L887 1711.9 L889 1708.3 L891 1710.8 L893 1713.0 L895 1710.7 L897 1711.8 L899 1712.9 L901 1711.3 L903 1712.1 L905 1712.9 L907 1712.4 L909 1712.6 L911 1712.4 L913 1712.5 L915 1711.3 L917 1711.5 L919 1712.3 L921 1712.6 L923 1710.9 L925 1711.6 L927 1713.3 L929 1713.4 L931 1712.6 L933 1712.6 L935 1710.8 L937 1712.2 L939 1710.6 L941 1713.2 L943 1713.7 L945 1713.8 L947 1712.5 L949 1712.4 L951 1714.9 L953 1713.5 L955 1713.4 L957 1713.3 L959 1712.3 L961 1712.9 L963 1712.4 L965 1713.1 L967 1711.7 L969 1711.5 L971 1711.9 L973 1712.9 L975 1714.0 L977 1712.4 L979 1713.4 L981 1714.2 L983 1712.1 L985 1712.7 L987 1711.9 L989 1713.5 L991 1713.9 L993 1711.1 L995 1713.2 L997 1712.8 L999 1713.3 L1001 1713.6 L1003 1712.0 L1005 1713.6 L1007 1708.9 L1009 1713.6 L1011 1712.8 L1013 1713.8 L1015 1712.8 L1017 1712.1 L1019 1713.2 L1021 1712.4 L1023 1712.9 L1025 1714.3 L1027 1713.1 L1029 1711.8 L1031 1712.2 L1033 1712.3 L1035 1713.4 L1037 1713.8 L1039 1712.2 L1041 1713.0 L1043 1713.1 L1045 1712.8 L1047 1714.2 L1049 1714.5 L1051 1712.5 L1053 1714.1 L1055 1712.6 L1057 1712.9 L1059 1713.8 L1061 1712.7 L1063 1713.2 L1065 1713.5 L1067 1714.0 L1069 1712.7 L1071 1710.5 L1073 1712.6 L1075 1713.3 L1077 1712.0 L1079 1712.7 L1081 1713.1 L1083 1713.3 L1085 1713.2 L1087 1713.8 L1089 1714.0 L1091 1712.0 L1093 1711.7 L1095 1712.9 L1097 1712.9 L1099 1713.5 L1101 1710.9 L1103 1713.1 L1105 1712.9 L1107 1711.5 L1109 1711.7 L1111 1710.2 L1113 1712.0 L1115 1712.6 L1117 1710.4 L1119 1708.2 L1121 1712.6 L1123 1713.1 L1125 1710.8 L1127 1710.5 L1129 1711.6 L1131 1709.6 L1133 1710.4 L1135 1711.0 L1137 1710.5 L1139 1710.0 L1141 1709.8 L1143 1708.6 L1145 1708.4 L1147 1707.6 L1149 1707.4 L1151 1706.6 L1153 1706.7 L1155 1706.0 L1157 1704.5 L1159 1704.9 L1161 1702.8 L1163 1702.4 L1165 1700.3 L1167 1698.3 L1169 1697.5 L1171 1694.0 L1173 1689.4 L1175 1685.8 L1177 1682.6 L1179 1675.0 L1181 1666.4 L1183 1656.8 L1185 1644.1 L1187 1632.7 L1189 1614.9 L1191 1598.5 L1193 1582.0 L1195 1568.4 L1197 1565.1 L1199 1568.9 L1201 1581.6 L1203 1594.9 L1205 1613.1 L1207 1629.0 L1209 1645.1 L1211 1655.8 L1213 1664.7 L1215 1673.5 L1217 1681.0 L1219 1685.7 L1221 1690.7 L1223 1693.6 L1225 1696.7 L1227 1698.1 L1229 1699.8 L1231 1702.2 L1233 1702.7 L1235 1704.3 L1237 1704.4 L1239 1706.1 L1241 1706.4 L1243 1708.5 L1245 1708.2 L1247 1710.6 L1249 1709.0 L1251 1710.6 L1253 1710.4 L1255 1710.4 L1257 1712.1 L1259 1710.9 L1261 1711.3 L1263 1711.0 L1265 1712.1 L1267 1712.5 L1269 1713.0 L1271 1713.5 L1273 1712.3 L1275 1714.0 L1277 1712.0 L1279 1713.5 L1281 1712.6 L1283 1713.0 L1285 1714.0 L1287 1712.5 L1289 1714.3 L1291 1713.4 L1293 1714.8 L1295 1714.1 L1297 1714.8 L1299 1713.6 L1301 1714.7 L1303 1713.9 L1305 1715.1 L1307 1714.9 L1309 1714.7 L1311 1713.6 L1313 1713.7 L1315 1713.7 L1317 1714.5 L1319 1713.8 L1321 1714.3 L1323 1714.1 L1325 1712.8 L1327 1713.5 L1329 1715.9 L1331 1715.9 L1333 1713.5 L1335 1715.2 L1337 1713.8 L1339 1715.0 L1341 1719.1 L1343 1714.1 L1345 1715.1 L1347 1714.5 L1349 1712.1 L1351 1714.2 L1353 1715.7 L1355 1714.5 L1357 1714.8 L1359 1713.7 L1361 1713.9 L1363 1711.8 L1365 1713.7 L1367 1712.1 L1369 1713.1 L1371 1712.4 L1373 1713.8 L1375 1714.0 L1377 1712.9 L1379 1712.9 L1381 1712.7 L1383 1711.6 L1385 1711.7 L1387 1711.7 L1389 1711.3 L1391 1710.2 L1393 1713.1 L1395 1709.2 L1397 1707.9 L1399 1708.2 L1401 1708.8 L1403 1706.5 L1405 1706.2 L1407 1704.9 L1409 1704.4 L1411 1702.1 L1413 1699.6 L1415 1697.4 L1417 1694.0 L1419 1690.3 L1421 1683.6 L1423 1678.5 L1425 1670.4 L1427 1662.5 L1429 1650.3 L1431 1638.0 L1433 1626.3 L1435 1616.0 L1437 1610.0 L1439 1609.1 L1441 1615.1 L1443 1622.4 L1445 1634.7 L1447 1647.2 L1449 1656.8 L1451 1667.0 L1453 1675.7 L1455 1681.7 L1457 1684.1 L1459 1691.5 L1461 1694.6 L1463 1697.3 L1465 1699.5 L1467 1701.2 L1469 1702.8 L1471 1703.1 L1473 1705.5 L1475 1705.4 L1477 1707.3 L1479 1706.4 L1481 1708.4 L1483 1707.4 L1485 1708.5 L1487 1708.5 L1489 1707.8 L1491 1707.6 L1493 1707.8 L1495 1708.2 L1497 1708.4 L1499 1705.5 L1501 1705.6 L1503 1704.9 L1505 1703.5 L1507 1702.3 L1509 1698.1 L1511 1699.2 L1513 1695.6 L1515 1697.0 L1517 1696.0 L1519 1696.8 L1521 1699.4 L1523 1700.7 L1525 1702.0 L1527 1705.2 L1529 1705.0 L1531 1707.0 L1533 1708.2 L1535 1709.3 L1537 1710.1 L1539 1711.0 L1541 1711.3 L1543 1712.7 L1545 1713.3 L1547 1713.0 L1549 1712.4 L1551 1713.6 L1553 1713.0 L1555 1714.9 L1557 1713.9 L1559 1715.2 L1561 1715.5 L1563 1713.2 L1565 1713.8 L1567 1714.5 L1569 1715.2 L1571 1715.7 L1573 1714.8 L1575 1714.6 L1577 1714.5 L1579 1716.5 L1581 1715.1 L1583 1714.2 L1585 1716.2 L1587 1714.7 L1589 1715.4 L1591 1716.3 L1593 1720.9 L1595 1716.6 L1597 1715.7 L1599 1716.2 L1601 1714.6 L1603 1716.6 L1605 1715.3 L1607 1715.7 L1609 1716.2 L1611 1716.4 L1613 1717.0 L1615 1716.7 L1617 1716.1 L1619 1717.1 L1621 1716.9 L1623 1715.3 L1625 1715.9 L1627 1715.8 L1629 1717.1 L1631 1716.6 L1633 1717.0 L1635 1716.4 L1637 1715.0 L1639 1715.1 L1641 1716.1 L1643 1715.8 L1645 1715.9 L1647 1715.1 L1649 1713.9 L1651 1715.3 L1653 1717.4 L1655 1715.6 L1657 1717.1 L1659 1715.6 L1661 1716.8 L1663 1716.7 L1665 1716.6 L1667 1715.9 L1669 1716.3 L1671 1717.1 L1673 1711.3 L1675 1715.8 L1677 1716.2 L1679 1716.0 L1681 1717.3 L1683 1715.4 L1685 1715.9 L1687 1715.6 L1689 1715.5 L1691 1716.5 L1693 1716.4 L1695 1718.4 L1697 1714.4 L1699 1715.9 L1701 1717.2 L1703 1716.1 L1705 1716.4 L1707 1715.7 L1709 1716.7 L1711 1717.7 L1713 1717.0 L1715 1714.2 L1717 1716.5 L1719 1717.4 L1721 1716.9 L1723 1716.8 L1725 1716.1 L1727 1717.7 L1729 1716.9 L1731 1715.3 L1733 1716.6 L1735 1717.6 L1737 1715.3 L1739 1715.2 L1741 1716.0 L1743 1717.6 L1745 1715.1 L1747 1715.5 L1749 1715.3 L1751 1716.2 L1753 1715.4 L1755 1715.4 L1757 1715.6 L1759 1715.4 L1761 1715.8 L1763 1714.3 L1765 1713.0 L1767 1715.1 L1769 1714.4 L1771 1712.3 L1773 1713.6 L1775 1712.3 L1777 1712.2 L1779 1711.2 L1781 1709.1 L1783 1709.4 L1785 1706.8 L1787 1704.5 L1789 1704.1 L1791 1702.2 L1793 1701.1 L1795 1697.5 L1797 1696.4 L1799 1697.9 L1801 1695.8 L1803 1697.9 L1805 1698.3 L1807 1700.6 L1809 1701.9 L1811 1705.3 L1813 1705.7 L1815 1707.7 L1817 1709.1 L1819 1710.9 L1821 1711.5 L1823 1713.2 L1825 1712.3 L1827 1714.2 L1829 1713.3 L1831 1713.5 L1833 1715.0 L1835 1712.7 L1837 1715.9 L1839 1716.2 L1841 1719.8 L1843 1715.7 L1845 1716.0 L1847 1716.8 L1849 1715.8 L1851 1715.7 L1853 1716.9 L1855 1715.3 L1857 1714.5 L1859 1715.4 L1861 1716.7 L1863 1716.9 L1865 1715.4 L1867 1714.3 L1869 1716.0 L1871 1716.3 L1873 1716.6 L1875 1717.2 L1877 1716.9 L1879 1717.1 L1881 1714.5 L1883 1715.6 L1885 1716.0 L1887 1715.7 L1889 1715.2 L1891 1716.4 L1893 1716.0 L1895 1716.4 L1897 1715.3 L1899 1715.7 L1901 1715.9 L1903 1719.4 L1905 1715.9 L1907 1715.4 L1909 1716.0 L1911 1714.9 L1913 1716.5 L1915 1716.6 L1917 1717.3 L1919 1714.9 L1921 1715.0 L1923 1716.2 L1925 1716.8 L1927 1715.8 L1929 1716.8 L1931 1713.9 L1933 1714.8 L1935 1715.4 L1937 1718.0 L1939 1715.6 L1941 1715.3 L1943 1714.8 L1945 1713.9 L1947 1713.8 L1949 1714.1 L1951 1714.0 L1953 1712.3 L1955 1712.8 L1957 1713.5 L1959 1712.4 L1961 1711.7 L1963 1711.6 L1965 1711.5 L1967 1708.7 L1969 1709.2 L1971 1707.7 L1973 1707.8 L1975 1706.9 L1977 1705.4 L1979 1703.7 L1981 1701.5 L1983 1698.2 L1985 1695.3 L1987 1693.6 L1989 1692.0 L1991 1689.7 L1993 1685.8 L1995 1685.4 L1997 1684.3 L1999 1685.2 L2001 1686.3 L2003 1687.3 L2005 1688.5 L2007 1691.8 L2009 1692.6 L2011 1698.5 L2013 1697.8 L2015 1700.9 L2017 1702.5 L2019 1704.2 L2021 1705.7 L2023 1706.6 L2025 1704.8 L2027 1706.8 L2029 1708.2 L2031 1708.7 L2033 1707.6 L2035 1708.5 L2037 1707.9 L2039 1707.5 L2041 1706.4 L2043 1705.1 L2045 1705.6 L2047 1702.0 L2049 1700.7 L2051 1700.3 L2053 1698.4 L2055 1697.2 L2057 1697.2 L2059 1694.0 L2061 1696.2 L2063 1697.2 L2065 1697.9 L2067 1699.9 L2069 1700.2 L2071 1701.6 L2073 1704.8 L2075 1704.4 L2077 1707.7 L2079 1708.7 L2081 1710.0 L2083 1709.0 L2085 1710.9 L2087 1710.8 L2089 1715.5 L2091 1712.8 L2093 1713.6 L2095 1713.4 L2097 1711.1 L2099 1713.6 L2101 1713.7 L2103 1714.0 L2105 1714.9 L2107 1714.1 L2109 1715.0 L2111 1715.4 L2113 1716.3 L2115 1715.0 L2117 1715.4 L2119 1714.1 L2121 1714.7 L2123 1714.5 L2125 1715.2 L2127 1715.2 L2129 1716.9 L2131 1719.1 L2133 1716.0 L2135 1713.8 L2137 1716.2 L2139 1716.2 L2141 1716.9 L2143 1716.2 L2145 1716.9 L2147 1716.1 L2149 1716.8 L2151 1714.9 L2153 1715.8 L2155 1717.1 L2157 1714.6 L2159 1715.3 L2161 1716.5 L2163 1715.2 L2165 1715.5 L2167 1715.6 L2169 1716.7 L2171 1716.3 L2173 1716.8 L2175 1714.2 L2177 1717.0 L2179 1716.1 L2181 1716.5 L2183 1716.8 L2185 1717.2 L2187 1715.8 L2189 1715.6 L2191 1716.9 L2193 1716.4 L2195 1715.6 L2197 1715.8 L2199 1716.2 L2201 1714.5 L2203 1716.0 L2205 1716.3 L2207 1714.8 L2209 1715.0 L2211 1716.4 L2213 1715.8 L2215 1716.7 L2217 1714.6 L2219 1716.5 L2221 1717.2 L2223 1715.5 L2225 1714.7 L2227 1715.4 L2229 1717.0 L2231 1715.9 L2233 1716.5 L2235 1715.3 L2237 1715.8 L2239 1715.1 L2241 1716.2 L2243 1715.2 L2245 1714.6 L2247 1715.7 L2249 1714.7 L2251 1715.3 L2253 1715.0 L2255 1715.3 L2257 1713.5 L2259 1718.6 L2261 1713.7 L2263 1715.6 L2265 1714.6 L2267 1714.4 L2269 1713.1 L2271 1713.3 L2273 1713.4 L2275 1714.3 L2277 1712.4 L2279 1713.5 L2281 1713.3 L2283 1712.6 L2285 1712.0 L2287 1712.5 L2289 1710.2 L2291 1709.5 L2293 1709.4 L2295 1706.9 L2297 1707.1 L2299 1704.4 L2301 1704.0 L2303 1700.1 L2305 1699.5 L2307 1696.7 L2309 1694.1 L2311 1690.4 L2313 1689.9 L2315 1688.3 L2317 1685.3 L2319 1688.2 L2321 1689.0 L2323 1691.0 L2325 1692.9 L2327 1696.4 L2329 1697.3 L2331 1701.0 L2333 1701.9 L2335 1704.1 L2337 1704.6 L2339 1706.9 L2341 1707.5 L2343 1709.5 L2345 1709.3 L2347 1708.9 L2349 1709.6 L2351 1710.1 L2353 1711.1"/>
</g>
<rect x="168.5" y="20.5" width="2188.5" height="1721.5" fill="none" stroke="#000" stroke-width="9"/>
<rect x="164.0" y="1742" width="9" height="39" fill="#000"/>
<rect x="439.0" y="1742" width="9" height="39" fill="#000"/>
<rect x="713.5" y="1742" width="9" height="39" fill="#000"/>
<rect x="984.0" y="1742" width="9" height="39" fill="#000"/>
<rect x="1258.5" y="1742" width="9" height="39" fill="#000"/>
<rect x="1532.8" y="1742" width="9" height="39" fill="#000"/>
<rect x="1806.5" y="1742" width="9" height="39" fill="#000"/>
<rect x="2081.0" y="1742" width="9" height="39" fill="#000"/>
<rect x="2352.5" y="1742" width="9" height="39" fill="#000"/>
<text class="sans" x="119.1" y="1882" font-size="96" fill="#000" letter-spacing="-5">10</text>
<text class="sans" x="387.1" y="1882" font-size="96" fill="#000">20</text>
<text class="sans" x="662.8" y="1882" font-size="96" fill="#000">30</text>
<text class="sans" x="935.1" y="1882" font-size="96" fill="#000">40</text>
<text class="sans" x="1210.3" y="1882" font-size="96" fill="#000">50</text>
<text class="sans" x="1481.1" y="1882" font-size="96" fill="#000">60</text>
<text class="sans" x="1756.0" y="1882" font-size="96" fill="#000">70</text>
<text class="sans" x="2030.8" y="1882" font-size="96" fill="#000">80</text>
<text class="sans" x="2305.6" y="1882" font-size="96" fill="#000">90</text>
<rect x="124" y="1872" width="19" height="14" fill="#fdfdfd"/>
<rect x="151.5" y="1872" width="19" height="14" fill="#fdfdfd"/>
<text x="686.0" y="109.0" font-family="Liberation Sans, Arial, sans-serif" font-weight="bold" font-size="78" text-anchor="middle" fill="#000">*</text>
<text x="805.6" y="553.5" font-family="Liberation Sans, Arial, sans-serif" font-weight="bold" font-size="78" text-anchor="middle" fill="#000">*</text>
<text x="1196.0" y="460.0" font-family="Liberation Sans, Arial, sans-serif" font-weight="bold" font-size="78" text-anchor="middle" fill="#000">*</text>
<text x="1441.0" y="537.0" font-family="Liberation Sans, Arial, sans-serif" font-weight="bold" font-size="78" text-anchor="middle" fill="#000">*</text>
<text x="1527.0" y="717.0" font-family="Liberation Sans, Arial, sans-serif" font-weight="bold" font-size="78" text-anchor="middle" fill="#000">*</text>
<text x="1798.0" y="690.5" font-family="Liberation Sans, Arial, sans-serif" font-weight="bold" font-size="78" text-anchor="middle" fill="#000">*</text>
<text x="1999.0" y="669.5" font-family="Liberation Sans, Arial, sans-serif" font-weight="bold" font-size="78" text-anchor="middle" fill="#000">*</text>
<text x="2069.5" y="687.0" font-family="Liberation Sans, Arial, sans-serif" font-weight="bold" font-size="78" text-anchor="middle" fill="#000">*</text>
<text x="2318.0" y="687.0" font-family="Liberation Sans, Arial, sans-serif" font-weight="bold" font-size="78" text-anchor="middle" fill="#000">*</text>
<text class="sans" x="1013" y="140" font-size="111" textLength="1309" lengthAdjust="spacingAndGlyphs" fill="#000">ICDD PDF-2 ~ 00-043-1002</text>
<rect x="2093" y="130.6" width="21" height="11" fill="#fdfdfd"/>
<rect x="2123.6" y="130.6" width="20" height="11" fill="#fdfdfd"/>
<text class="serif" x="1703.5" y="469" font-size="101" textLength="599.9" lengthAdjust="spacingAndGlyphs" fill="#000">Spindle shape</text>
<text class="serif" x="1655.5" y="988" font-size="102" textLength="661" lengthAdjust="spacingAndGlyphs" fill="#000">Nanorod shape</text>
<text class="serif" x="1818.8" y="1344" font-size="102" fill="#000">Mix shapes</text>
<text class="serif" x="1729.7" y="1621" font-size="102" textLength="582.4" lengthAdjust="spacingAndGlyphs" fill="#000">Sphere shape</text>
<text class="sans" x="922.5" y="2024" font-size="100" font-weight="bold" textLength="680" lengthAdjust="spacingAndGlyphs" fill="#000">Degrees 2-theta</text>
<text class="serif" transform="translate(100,1111) rotate(-90)" x="0" y="0" font-size="97" fill="#000">Intensity (a.u)</text>
</svg>
</body></html>
